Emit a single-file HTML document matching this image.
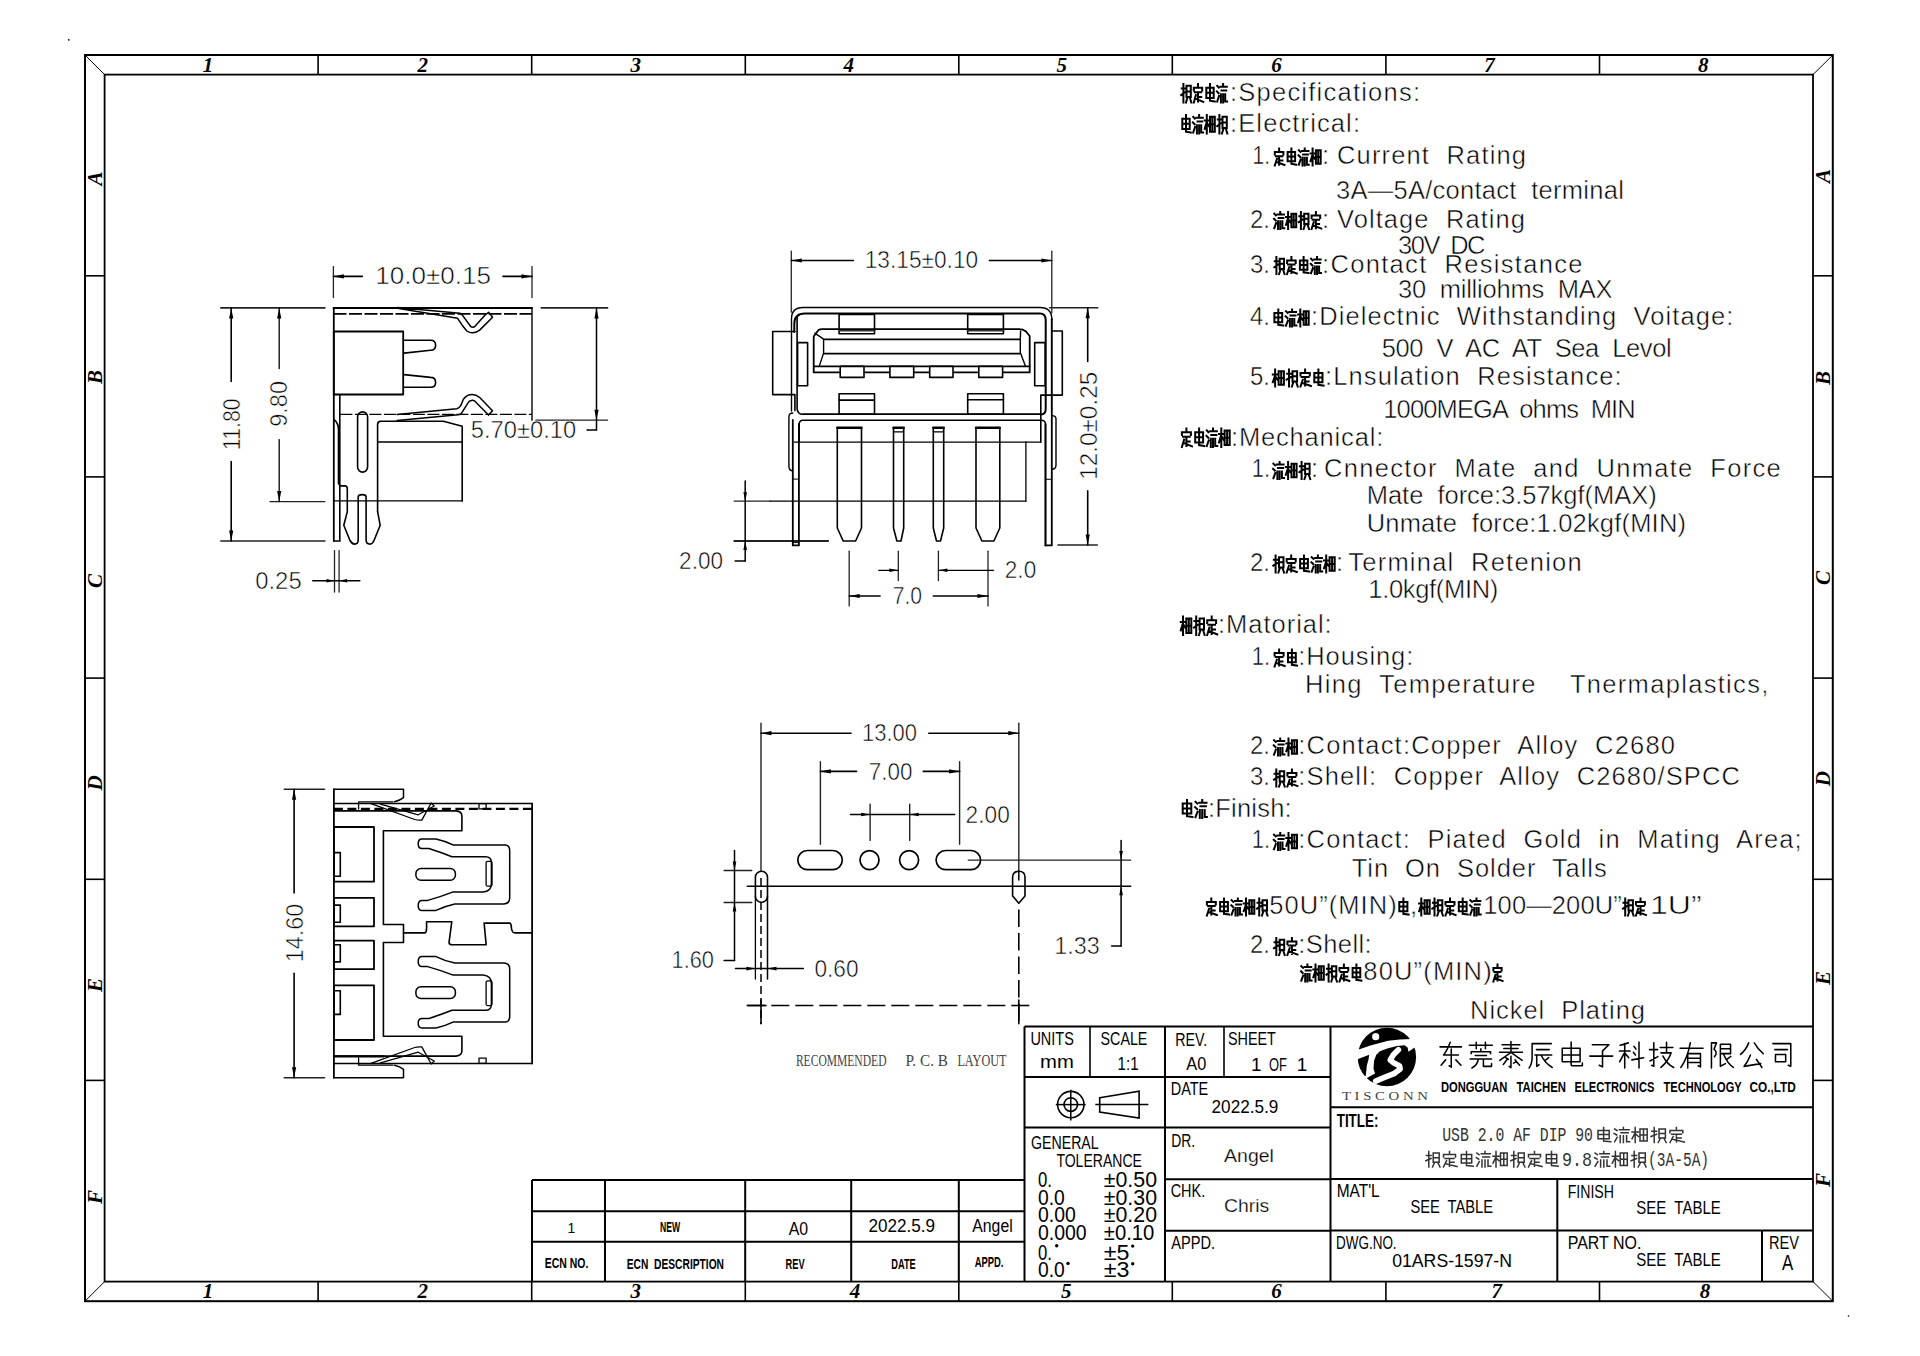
<!DOCTYPE html>
<html><head><meta charset="utf-8"><style>
html,body{margin:0;padding:0;background:#fff;}
svg{display:block;}
text{font-family:"Liberation Sans",sans-serif;fill:#000;white-space:pre;}
.gl{font-family:"Liberation Serif",serif;font-style:italic;font-size:21px;font-weight:bold;}
.tbb{font-weight:bold;}
.dm{stroke:#fff;stroke-width:0.55px;}
.sp{stroke:#fff;stroke-width:0.5px;}
.th{stroke:#fff;stroke-width:0.25px;}
.sr{font-family:"Liberation Serif",serif;fill:#444;}
.mo{font-family:"Liberation Mono",monospace;fill:#333;}
</style></head><body>
<svg width="1920" height="1356" viewBox="0 0 1920 1356">
<rect width="1920" height="1356" fill="#fff"/>
<g stroke="#000" fill="none">
<rect x="85" y="55" width="1747.8" height="1246.2" stroke-width="2"/>
<rect x="104.6" y="74.6" width="1708.4" height="1207.0" stroke-width="1.8"/>
<line x1="85.0" y1="55.0" x2="104.6" y2="74.6" stroke-width="1"/>
<line x1="1832.8" y1="55.0" x2="1813.0" y2="74.6" stroke-width="1"/>
<line x1="85.0" y1="1301.2" x2="104.6" y2="1281.6" stroke-width="1"/>
<line x1="1832.8" y1="1301.2" x2="1813.0" y2="1281.6" stroke-width="1"/>
<line x1="318.1" y1="55.0" x2="318.1" y2="74.6" stroke-width="1.6"/>
<line x1="318.1" y1="1281.6" x2="318.1" y2="1301.2" stroke-width="1.6"/>
<line x1="531.7" y1="55.0" x2="531.7" y2="74.6" stroke-width="1.6"/>
<line x1="531.7" y1="1281.6" x2="531.7" y2="1301.2" stroke-width="1.6"/>
<line x1="745.3" y1="55.0" x2="745.3" y2="74.6" stroke-width="1.6"/>
<line x1="745.3" y1="1281.6" x2="745.3" y2="1301.2" stroke-width="1.6"/>
<line x1="958.8" y1="55.0" x2="958.8" y2="74.6" stroke-width="1.6"/>
<line x1="958.8" y1="1281.6" x2="958.8" y2="1301.2" stroke-width="1.6"/>
<line x1="1172.3" y1="55.0" x2="1172.3" y2="74.6" stroke-width="1.6"/>
<line x1="1172.3" y1="1281.6" x2="1172.3" y2="1301.2" stroke-width="1.6"/>
<line x1="1385.9" y1="55.0" x2="1385.9" y2="74.6" stroke-width="1.6"/>
<line x1="1385.9" y1="1281.6" x2="1385.9" y2="1301.2" stroke-width="1.6"/>
<line x1="1599.5" y1="55.0" x2="1599.5" y2="74.6" stroke-width="1.6"/>
<line x1="1599.5" y1="1281.6" x2="1599.5" y2="1301.2" stroke-width="1.6"/>
<line x1="85.0" y1="275.8" x2="104.6" y2="275.8" stroke-width="1.6"/>
<line x1="1813.0" y1="275.8" x2="1832.8" y2="275.8" stroke-width="1.6"/>
<line x1="85.0" y1="476.9" x2="104.6" y2="476.9" stroke-width="1.6"/>
<line x1="1813.0" y1="476.9" x2="1832.8" y2="476.9" stroke-width="1.6"/>
<line x1="85.0" y1="678.1" x2="104.6" y2="678.1" stroke-width="1.6"/>
<line x1="1813.0" y1="678.1" x2="1832.8" y2="678.1" stroke-width="1.6"/>
<line x1="85.0" y1="879.3" x2="104.6" y2="879.3" stroke-width="1.6"/>
<line x1="1813.0" y1="879.3" x2="1832.8" y2="879.3" stroke-width="1.6"/>
<line x1="85.0" y1="1080.4" x2="104.6" y2="1080.4" stroke-width="1.6"/>
<line x1="1813.0" y1="1080.4" x2="1832.8" y2="1080.4" stroke-width="1.6"/>
</g>
<text class="gl" x="208.0" y="71.5" text-anchor="middle">1</text>
<text class="gl" x="208.0" y="1298" text-anchor="middle">1</text>
<text class="gl" x="422.7" y="71.5" text-anchor="middle">2</text>
<text class="gl" x="422.7" y="1298" text-anchor="middle">2</text>
<text class="gl" x="635.7" y="71.5" text-anchor="middle">3</text>
<text class="gl" x="635.7" y="1298" text-anchor="middle">3</text>
<text class="gl" x="848.7" y="71.5" text-anchor="middle">4</text>
<text class="gl" x="855.0" y="1298" text-anchor="middle">4</text>
<text class="gl" x="1061.7" y="71.5" text-anchor="middle">5</text>
<text class="gl" x="1066.2" y="1298" text-anchor="middle">5</text>
<text class="gl" x="1276.4" y="71.5" text-anchor="middle">6</text>
<text class="gl" x="1276.4" y="1298" text-anchor="middle">6</text>
<text class="gl" x="1489.4" y="71.5" text-anchor="middle">7</text>
<text class="gl" x="1496.7" y="1298" text-anchor="middle">7</text>
<text class="gl" x="1703.3" y="71.5" text-anchor="middle">8</text>
<text class="gl" x="1705.1" y="1298" text-anchor="middle">8</text>
<text class="gl" transform="translate(101.5 178.4) rotate(-90)" x="0" y="0" text-anchor="middle">A</text>
<text class="gl" transform="translate(1829.5 176.0) rotate(-90)" x="0" y="0" text-anchor="middle">A</text>
<text class="gl" transform="translate(101.5 377.0) rotate(-90)" x="0" y="0" text-anchor="middle">B</text>
<text class="gl" transform="translate(1829.5 378.0) rotate(-90)" x="0" y="0" text-anchor="middle">B</text>
<text class="gl" transform="translate(101.5 581.0) rotate(-90)" x="0" y="0" text-anchor="middle">C</text>
<text class="gl" transform="translate(1829.5 578.0) rotate(-90)" x="0" y="0" text-anchor="middle">C</text>
<text class="gl" transform="translate(101.5 783.0) rotate(-90)" x="0" y="0" text-anchor="middle">D</text>
<text class="gl" transform="translate(1829.5 778.6) rotate(-90)" x="0" y="0" text-anchor="middle">D</text>
<text class="gl" transform="translate(101.5 985.0) rotate(-90)" x="0" y="0" text-anchor="middle">E</text>
<text class="gl" transform="translate(1829.5 978.0) rotate(-90)" x="0" y="0" text-anchor="middle">E</text>
<text class="gl" transform="translate(101.5 1197.0) rotate(-90)" x="0" y="0" text-anchor="middle">F</text>
<text class="gl" transform="translate(1829.5 1180.0) rotate(-90)" x="0" y="0" text-anchor="middle">F</text>
<circle cx="68.8" cy="39.8" r="0.9" fill="#000"/>
<circle cx="1848.5" cy="1316" r="0.8" fill="#000"/>
<g stroke="#000" fill="none">
<line x1="1024.5" y1="1026.5" x2="1813.0" y2="1026.5" stroke-width="2"/>
<line x1="1024.5" y1="1026.5" x2="1024.5" y2="1281.6" stroke-width="2"/>
<line x1="1090.0" y1="1026.5" x2="1090.0" y2="1077.0" stroke-width="1.6"/>
<line x1="1165.0" y1="1026.5" x2="1165.0" y2="1281.6" stroke-width="2"/>
<line x1="1224.0" y1="1026.5" x2="1224.0" y2="1077.0" stroke-width="1.6"/>
<line x1="1330.5" y1="1026.5" x2="1330.5" y2="1281.6" stroke-width="2"/>
<line x1="1024.5" y1="1077.0" x2="1330.5" y2="1077.0" stroke-width="2"/>
<line x1="1024.5" y1="1127.5" x2="1330.5" y2="1127.5" stroke-width="2"/>
<line x1="1165.0" y1="1179.3" x2="1330.5" y2="1179.3" stroke-width="2"/>
<line x1="1165.0" y1="1230.7" x2="1330.5" y2="1230.7" stroke-width="2"/>
<line x1="1330.5" y1="1107.2" x2="1813.0" y2="1107.2" stroke-width="2"/>
<line x1="1330.5" y1="1178.9" x2="1813.0" y2="1178.9" stroke-width="2"/>
<line x1="1330.5" y1="1230.4" x2="1813.0" y2="1230.4" stroke-width="2"/>
<line x1="1557.3" y1="1178.9" x2="1557.3" y2="1281.6" stroke-width="2"/>
<line x1="1762.0" y1="1230.4" x2="1762.0" y2="1281.6" stroke-width="2"/>
<line x1="532.0" y1="1180.1" x2="532.0" y2="1281.6" stroke-width="2"/>
<line x1="605.0" y1="1180.1" x2="605.0" y2="1281.6" stroke-width="2"/>
<line x1="745.2" y1="1180.1" x2="745.2" y2="1281.6" stroke-width="2"/>
<line x1="851.2" y1="1180.1" x2="851.2" y2="1281.6" stroke-width="2"/>
<line x1="958.8" y1="1180.1" x2="958.8" y2="1281.6" stroke-width="2"/>
<line x1="532.0" y1="1180.1" x2="1024.5" y2="1180.1" stroke-width="2"/>
<line x1="532.0" y1="1211.2" x2="1024.5" y2="1211.2" stroke-width="2"/>
<line x1="532.0" y1="1241.7" x2="1024.5" y2="1241.7" stroke-width="2"/>
<circle cx="1070.8" cy="1104.6" r="13.2" stroke-width="1.6"/>
<circle cx="1070.8" cy="1104.6" r="6.8" stroke-width="1.6"/>
<line x1="1055.8" y1="1104.6" x2="1085.7" y2="1104.6" stroke-width="1.5"/>
<line x1="1070.8" y1="1089.7" x2="1070.8" y2="1120.6" stroke-width="1.5"/>
<line x1="1095.3" y1="1104.6" x2="1148.4" y2="1104.6" stroke-width="1.5"/>
<path d="M1099.7 1097.7L1139.1 1091.3L1139.1 1118L1099.7 1112Z" stroke-width="1.6"/>
</g>
<text x="1030.4" y="1044.9" font-size="18.90" textLength="43.4" lengthAdjust="spacingAndGlyphs" class="tb">UNITS</text>
<text x="1040.0" y="1067.8" font-size="18.90" textLength="33.8" lengthAdjust="spacingAndGlyphs" class="tb">mm</text>
<text x="1100.6" y="1044.9" font-size="18.90" textLength="46.8" lengthAdjust="spacingAndGlyphs" class="tb">SCALE</text>
<text x="1117.6" y="1069.8" font-size="18.90" textLength="20.9" lengthAdjust="spacingAndGlyphs" class="tb">1:1</text>
<text x="1175.3" y="1045.5" font-size="18.90" textLength="31.9" lengthAdjust="spacingAndGlyphs" class="tb">REV.</text>
<text x="1186.3" y="1069.8" font-size="18.90" textLength="19.9" lengthAdjust="spacingAndGlyphs" class="tb">A0</text>
<text x="1228.0" y="1044.9" font-size="18.90" textLength="47.9" lengthAdjust="spacingAndGlyphs" class="tb">SHEET</text>
<text x="1251.0" y="1070.8" font-size="18.90" class="tb">1</text>
<text x="1268.9" y="1070.8" font-size="18.90" textLength="17.9" lengthAdjust="spacingAndGlyphs" class="tb">OF</text>
<text x="1296.8" y="1070.8" font-size="18.90" class="tb">1</text>
<text x="1170.7" y="1095.3" font-size="18.31" textLength="37.5" lengthAdjust="spacingAndGlyphs" class="tb">DATE</text>
<text x="1211.6" y="1112.6" font-size="18.75" textLength="66.7" lengthAdjust="spacingAndGlyphs" class="tb">2022.5.9</text>
<text x="1031.0" y="1149.4" font-size="18.75" textLength="67.7" lengthAdjust="spacingAndGlyphs" class="tb">GENERAL</text>
<text x="1056.4" y="1167.4" font-size="18.75" textLength="85.5" lengthAdjust="spacingAndGlyphs" class="tb">TOLERANCE</text>
<text x="1038.0" y="1187.4" font-size="21.95" textLength="13.9" lengthAdjust="spacingAndGlyphs" class="tb">0.</text>
<text x="1103.8" y="1187.4" font-size="21.95" textLength="53.2" lengthAdjust="spacingAndGlyphs" class="tb">±0.50</text>
<text x="1038.0" y="1204.7" font-size="21.95" textLength="26.8" lengthAdjust="spacingAndGlyphs" class="tb">0.0</text>
<text x="1103.8" y="1204.7" font-size="21.95" textLength="53.2" lengthAdjust="spacingAndGlyphs" class="tb">±0.30</text>
<text x="1038.0" y="1222.4" font-size="21.95" textLength="37.8" lengthAdjust="spacingAndGlyphs" class="tb">0.00</text>
<text x="1103.8" y="1222.4" font-size="21.95" textLength="53.2" lengthAdjust="spacingAndGlyphs" class="tb">±0.20</text>
<text x="1038.0" y="1240.1" font-size="21.95" textLength="48.7" lengthAdjust="spacingAndGlyphs" class="tb">0.000</text>
<text x="1103.8" y="1240.1" font-size="21.95" textLength="50.6" lengthAdjust="spacingAndGlyphs" class="tb">±0.10</text>
<text x="1038.0" y="1259.5" font-size="21.95" textLength="13.9" lengthAdjust="spacingAndGlyphs" class="tb">0.</text>
<text x="1103.8" y="1259.5" font-size="21.95" textLength="25.7" lengthAdjust="spacingAndGlyphs" class="tb">±5</text>
<text x="1038.0" y="1277.2" font-size="21.95" textLength="26.8" lengthAdjust="spacingAndGlyphs" class="tb">0.0</text>
<text x="1103.8" y="1277.2" font-size="21.95" textLength="25.7" lengthAdjust="spacingAndGlyphs" class="tb">±3</text>
<circle cx="1056.7" cy="1245.7" r="1.7" fill="#000"/>
<circle cx="1132.7" cy="1246.1" r="1.7" fill="#000"/>
<circle cx="1068" cy="1263.4" r="1.7" fill="#000"/>
<circle cx="1132.7" cy="1263.8" r="1.7" fill="#000"/>
<text x="1171.3" y="1146.8" font-size="18.90" textLength="23.9" lengthAdjust="spacingAndGlyphs" class="tb">DR.</text>
<text x="1224.1" y="1161.8" font-size="18.90" textLength="49.8" lengthAdjust="spacingAndGlyphs" class="th">Angel</text>
<text x="1170.7" y="1196.8" font-size="18.90" textLength="34.5" lengthAdjust="spacingAndGlyphs" class="tb">CHK.</text>
<text x="1224.0" y="1212.2" font-size="18.90" textLength="45.3" lengthAdjust="spacingAndGlyphs" class="th">Chris</text>
<text x="1171.3" y="1249.0" font-size="18.90" textLength="43.8" lengthAdjust="spacingAndGlyphs" class="tb">APPD.</text>
<text x="1336.7" y="1126.8" font-size="18.90" textLength="41.7" lengthAdjust="spacingAndGlyphs" class="tbb">TITLE:</text>
<text x="1336.7" y="1197.0" font-size="18.90" textLength="43.0" lengthAdjust="spacingAndGlyphs" class="tb">MAT'L</text>
<text x="1410.4" y="1212.7" font-size="18.90" textLength="82.6" lengthAdjust="spacingAndGlyphs" class="tb">SEE  TABLE</text>
<text x="1567.7" y="1198.4" font-size="18.90" textLength="46.3" lengthAdjust="spacingAndGlyphs" class="tb">FINISH</text>
<text x="1636.2" y="1214.0" font-size="18.90" textLength="84.6" lengthAdjust="spacingAndGlyphs" class="tb">SEE  TABLE</text>
<text x="1336.0" y="1248.6" font-size="18.90" textLength="60.6" lengthAdjust="spacingAndGlyphs" class="tb">DWG.NO.</text>
<text x="1392.2" y="1266.9" font-size="18.90" textLength="119.8" lengthAdjust="spacingAndGlyphs" class="tb">01ARS-1597-N</text>
<text x="1567.7" y="1249.2" font-size="18.90" textLength="73.7" lengthAdjust="spacingAndGlyphs" class="tb">PART NO.</text>
<text x="1636.2" y="1266.1" font-size="18.90" textLength="84.6" lengthAdjust="spacingAndGlyphs" class="tb">SEE  TABLE</text>
<text x="1769.0" y="1248.6" font-size="18.90" textLength="30.0" lengthAdjust="spacingAndGlyphs" class="tb">REV</text>
<text x="1782.0" y="1270.0" font-size="21.80" textLength="11.2" lengthAdjust="spacingAndGlyphs" class="tb">A</text>
<text x="1440.9" y="1091.6" font-size="15.26" textLength="66.4" lengthAdjust="spacingAndGlyphs" class="tbb">DONGGUAN</text>
<text x="1516.4" y="1091.6" font-size="15.26" textLength="49.5" lengthAdjust="spacingAndGlyphs" class="tbb">TAICHEN</text>
<text x="1574.5" y="1091.6" font-size="15.26" textLength="79.9" lengthAdjust="spacingAndGlyphs" class="tbb">ELECTRONICS</text>
<text x="1663.5" y="1091.6" font-size="15.26" textLength="78.2" lengthAdjust="spacingAndGlyphs" class="tbb">TECHNOLOGY</text>
<text x="1749.5" y="1091.6" font-size="15.26" textLength="46.3" lengthAdjust="spacingAndGlyphs" class="tbb">CO.,LTD</text>
<text x="567.5" y="1233.0" font-size="13.81" class="tb">1</text>
<text x="660.0" y="1231.6" font-size="13.81" textLength="20.2" lengthAdjust="spacingAndGlyphs" class="tbb">NEW</text>
<text x="788.8" y="1235.0" font-size="17.44" textLength="19.4" lengthAdjust="spacingAndGlyphs" class="tb">A0</text>
<text x="868.5" y="1232.4" font-size="18.17" textLength="66.6" lengthAdjust="spacingAndGlyphs" class="tb">2022.5.9</text>
<text x="972.3" y="1231.6" font-size="17.44" textLength="40.4" lengthAdjust="spacingAndGlyphs" class="tb">Angel</text>
<text x="544.7" y="1267.7" font-size="14.54" textLength="43.6" lengthAdjust="spacingAndGlyphs" class="tbb">ECN NO.</text>
<text x="626.8" y="1268.8" font-size="14.54" textLength="97.2" lengthAdjust="spacingAndGlyphs" class="tbb">ECN  DESCRIPTION</text>
<text x="785.6" y="1268.8" font-size="14.54" textLength="19.1" lengthAdjust="spacingAndGlyphs" class="tbb">REV</text>
<text x="891.3" y="1268.8" font-size="14.54" textLength="24.4" lengthAdjust="spacingAndGlyphs" class="tbb">DATE</text>
<text x="974.7" y="1267.0" font-size="14.54" textLength="28.7" lengthAdjust="spacingAndGlyphs" class="tbb">APPD.</text>
<path d="M1181.8 88.6L1184.9 88.6M1183.4 84.0L1183.4 102.5M1181.2 95.1L1184.9 92.3M1186.5 85.8L1190.8 85.8M1186.5 85.8L1186.5 97.0M1190.8 85.8L1190.8 97.0M1186.5 91.4L1190.8 91.4M1186.5 97.0L1190.8 97.0M1187.6 97.0L1186.0 102.5M1189.7 97.0L1191.3 102.5M1198.0 84.0L1198.0 86.8M1193.8 87.7L1202.2 87.7M1193.8 87.7L1193.8 90.5M1202.2 87.7L1202.2 90.5M1194.8 92.3L1201.2 92.3M1198.0 92.3L1198.0 101.6M1198.0 97.0L1201.2 97.0M1195.9 95.1L1193.8 102.5M1195.9 98.8L1203.3 101.9M1206.3 87.7L1213.7 87.7M1206.3 87.7L1206.3 97.9M1213.7 87.7L1213.7 97.9M1206.3 92.7L1213.7 92.7M1206.3 97.9L1213.7 97.9M1210.0 84.0L1210.0 100.7M1210.0 100.7L1214.8 101.6M1217.2 85.8L1218.8 87.7M1216.9 91.4L1218.6 93.2M1217.2 101.6L1219.0 96.0M1220.4 86.8L1226.8 86.8M1223.1 84.0L1223.1 86.8M1221.5 90.5L1226.2 90.5M1220.9 94.2L1220.9 102.5M1223.1 94.2L1223.1 102.5M1225.2 94.2L1225.2 101.6M1225.2 101.6L1227.1 101.6" stroke="#000" stroke-width="2.0" fill="none" stroke-linecap="square"/>
<text x="1230.0" y="101.2" font-size="25.50" textLength="190.0" lengthAdjust="spacing" class="sp">:Specifications:</text>
<path d="M1182.3 118.7L1189.7 118.7M1182.3 118.7L1182.3 128.9M1189.7 118.7L1189.7 128.9M1182.3 123.7L1189.7 123.7M1182.3 128.9L1189.7 128.9M1186.0 115.0L1186.0 131.7M1186.0 131.7L1190.8 132.6M1193.2 116.8L1194.8 118.7M1192.9 122.4L1194.6 124.2M1193.2 132.6L1195.0 127.0M1196.4 117.8L1202.8 117.8M1199.1 115.0L1199.1 117.8M1197.5 121.5L1202.2 121.5M1196.9 125.2L1196.9 133.5M1199.1 125.2L1199.1 133.5M1201.2 125.2L1201.2 132.6M1201.2 132.6L1203.1 132.6M1204.7 120.5L1208.9 120.5M1206.8 115.0L1206.8 133.5M1206.8 121.5L1204.7 128.9M1206.8 122.4L1208.9 126.1M1210.0 116.8L1214.8 116.8M1210.0 116.8L1210.0 131.7M1210.0 124.2L1214.8 124.2M1214.8 116.8L1214.8 131.7M1210.0 131.7L1214.8 131.7M1212.3 116.8L1212.3 131.7M1217.8 119.6L1220.9 119.6M1219.4 115.0L1219.4 133.5M1217.2 126.1L1220.9 123.3M1222.5 116.8L1226.8 116.8M1222.5 116.8L1222.5 128.0M1226.8 116.8L1226.8 128.0M1222.5 122.4L1226.8 122.4M1222.5 128.0L1226.8 128.0M1223.6 128.0L1222.0 133.5M1225.7 128.0L1227.3 133.5" stroke="#000" stroke-width="2.0" fill="none" stroke-linecap="square"/>
<text x="1230.0" y="132.0" font-size="25.50" textLength="130.0" lengthAdjust="spacing" class="sp">:Electrical:</text>
<text x="1252.5" y="163.8" font-size="25.50" textLength="17.5" lengthAdjust="spacingAndGlyphs" class="sp">1.</text>
<path d="M1279.1 148.5L1279.1 151.1M1274.8 151.9L1283.4 151.9M1274.8 151.9L1274.8 154.4M1283.4 151.9L1283.4 154.4M1275.9 156.2L1282.4 156.2M1279.1 156.2L1279.1 164.7M1279.1 160.4L1282.4 160.4M1277.0 158.7L1274.8 165.5M1277.0 162.1L1284.5 165.0M1287.6 151.9L1295.1 151.9M1287.6 151.9L1287.6 161.2M1295.1 151.9L1295.1 161.2M1287.6 156.5L1295.1 156.5M1287.6 161.2L1295.1 161.2M1291.4 148.5L1291.4 163.8M1291.4 163.8L1296.2 164.7M1298.8 150.2L1300.4 151.9M1298.5 155.3L1300.2 157.0M1298.8 164.7L1300.6 159.6M1302.0 151.1L1308.5 151.1M1304.7 148.5L1304.7 151.1M1303.1 154.4L1307.9 154.4M1302.5 157.8L1302.5 165.5M1304.7 157.8L1304.7 165.5M1306.9 157.8L1306.9 164.7M1306.9 164.7L1308.8 164.7M1310.5 153.6L1314.8 153.6M1312.6 148.5L1312.6 165.5M1312.6 154.4L1310.5 161.2M1312.6 155.3L1314.8 158.7M1315.9 150.2L1320.7 150.2M1315.9 150.2L1315.9 163.8M1315.9 157.0L1320.7 157.0M1320.7 150.2L1320.7 163.8M1315.9 163.8L1320.7 163.8M1318.2 150.2L1318.2 163.8" stroke="#000" stroke-width="2.0" fill="none" stroke-linecap="square"/>
<text x="1322.0" y="163.8" font-size="25.50" textLength="6.0" lengthAdjust="spacing" class="sp">:</text>
<text x="1337.0" y="163.8" font-size="25.50" textLength="189.0" lengthAdjust="spacing" class="sp">Current  Rating</text>
<text x="1336.0" y="199.0" font-size="25.50" textLength="287.8" lengthAdjust="spacing" class="sp">3A—5A/contact  terminal</text>
<text x="1250.0" y="227.5" font-size="25.50" textLength="20.0" lengthAdjust="spacingAndGlyphs" class="sp">2.</text>
<path d="M1274.3 213.7L1275.9 215.4M1274.0 218.8L1275.7 220.5M1274.3 228.2L1276.1 223.1M1277.5 214.6L1284.0 214.6M1280.2 212.0L1280.2 214.6M1278.6 217.9L1283.4 217.9M1278.0 221.3L1278.0 229.0M1280.2 221.3L1280.2 229.0M1282.4 221.3L1282.4 228.2M1282.4 228.2L1284.3 228.2M1286.0 217.1L1290.3 217.1M1288.1 212.0L1288.1 229.0M1288.1 217.9L1286.0 224.8M1288.1 218.8L1290.3 222.2M1291.4 213.7L1296.2 213.7M1291.4 213.7L1291.4 227.3M1291.4 220.5L1296.2 220.5M1296.2 213.7L1296.2 227.3M1291.4 227.3L1296.2 227.3M1293.7 213.7L1293.7 227.3M1299.3 216.2L1302.5 216.2M1300.9 212.0L1300.9 229.0M1298.8 222.2L1302.5 219.7M1304.2 213.7L1308.5 213.7M1304.2 213.7L1304.2 223.9M1308.5 213.7L1308.5 223.9M1304.2 218.8L1308.5 218.8M1304.2 223.9L1308.5 223.9M1305.2 223.9L1303.6 229.0M1307.4 223.9L1309.0 229.0M1315.9 212.0L1315.9 214.6M1311.6 215.4L1320.2 215.4M1311.6 215.4L1311.6 217.9M1320.2 215.4L1320.2 217.9M1312.6 219.7L1319.1 219.7M1315.9 219.7L1315.9 228.2M1315.9 223.9L1319.1 223.9M1313.7 222.2L1311.6 229.0M1313.7 225.6L1321.3 228.5" stroke="#000" stroke-width="2.0" fill="none" stroke-linecap="square"/>
<text x="1322.0" y="227.5" font-size="25.50" textLength="6.0" lengthAdjust="spacing" class="sp">:</text>
<text x="1337.0" y="227.5" font-size="25.50" textLength="188.0" lengthAdjust="spacing" class="sp">Voltage  Rating</text>
<text x="1398.0" y="253.8" font-size="25.50" textLength="87.5" lengthAdjust="spacing" class="sp">30V  DC</text>
<text x="1250.0" y="272.5" font-size="25.50" textLength="20.0" lengthAdjust="spacingAndGlyphs" class="sp">3.</text>
<path d="M1274.8 261.2L1278.0 261.2M1276.4 257.0L1276.4 274.0M1274.3 267.2L1278.0 264.6M1279.7 258.7L1284.0 258.7M1279.7 258.7L1279.7 268.9M1284.0 258.7L1284.0 268.9M1279.7 263.8L1284.0 263.8M1279.7 268.9L1284.0 268.9M1280.7 268.9L1279.1 274.0M1282.9 268.9L1284.5 274.0M1291.4 257.0L1291.4 259.6M1287.1 260.4L1295.7 260.4M1287.1 260.4L1287.1 262.9M1295.7 260.4L1295.7 262.9M1288.1 264.6L1294.6 264.6M1291.4 264.6L1291.4 273.1M1291.4 268.9L1294.6 268.9M1289.2 267.2L1287.1 274.0M1289.2 270.6L1296.8 273.5M1299.9 260.4L1307.4 260.4M1299.9 260.4L1299.9 269.8M1307.4 260.4L1307.4 269.8M1299.9 265.0L1307.4 265.0M1299.9 269.8L1307.4 269.8M1303.6 257.0L1303.6 272.3M1303.6 272.3L1308.5 273.1M1311.0 258.7L1312.6 260.4M1310.7 263.8L1312.4 265.5M1311.0 273.1L1312.9 268.1M1314.3 259.6L1320.7 259.6M1317.0 257.0L1317.0 259.6M1315.3 262.9L1320.2 262.9M1314.8 266.4L1314.8 274.0M1317.0 266.4L1317.0 274.0M1319.1 266.4L1319.1 273.1M1319.1 273.1L1321.0 273.1" stroke="#000" stroke-width="2.0" fill="none" stroke-linecap="square"/>
<text x="1322.0" y="272.5" font-size="25.50" textLength="260.5" lengthAdjust="spacing" class="sp">:Contact  Resistance</text>
<text x="1398.0" y="298.0" font-size="25.50" textLength="214.5" lengthAdjust="spacing" class="sp">30  milliohms  MAX</text>
<text x="1250.0" y="325.0" font-size="25.50" textLength="20.0" lengthAdjust="spacingAndGlyphs" class="sp">4.</text>
<path d="M1274.4 312.9L1282.2 312.9M1274.4 312.9L1274.4 322.2M1282.2 312.9L1282.2 322.2M1274.4 317.5L1282.2 317.5M1274.4 322.2L1282.2 322.2M1278.3 309.5L1278.3 324.8M1278.3 324.8L1283.3 325.6M1286.0 311.2L1287.7 312.9M1285.6 316.3L1287.4 318.0M1286.0 325.6L1287.9 320.6M1289.3 312.1L1296.0 312.1M1292.1 309.5L1292.1 312.1M1290.4 315.4L1295.5 315.4M1289.9 318.9L1289.9 326.5M1292.1 318.9L1292.1 326.5M1294.3 318.9L1294.3 325.6M1294.3 325.6L1296.4 325.6M1298.1 314.6L1302.6 314.6M1300.3 309.5L1300.3 326.5M1300.3 315.4L1298.1 322.2M1300.3 316.3L1302.6 319.7M1303.7 311.2L1308.7 311.2M1303.7 311.2L1303.7 324.8M1303.7 318.0L1308.7 318.0M1308.7 311.2L1308.7 324.8M1303.7 324.8L1308.7 324.8M1306.1 311.2L1306.1 324.8" stroke="#000" stroke-width="2.0" fill="none" stroke-linecap="square"/>
<text x="1311.0" y="325.0" font-size="25.50" textLength="422.3" lengthAdjust="spacing" class="sp">:Dielectnic  Withstanding  Voitage:</text>
<text x="1381.7" y="356.7" font-size="25.50" textLength="290.0" lengthAdjust="spacing" class="sp">500  V  AC  AT  Sea  Levol</text>
<text x="1250.0" y="385.0" font-size="25.50" textLength="20.0" lengthAdjust="spacingAndGlyphs" class="sp">5.</text>
<path d="M1272.8 374.6L1277.5 374.6M1275.1 369.5L1275.1 386.5M1275.1 375.4L1272.8 382.2M1275.1 376.3L1277.5 379.7M1278.6 371.2L1283.9 371.2M1278.6 371.2L1278.6 384.8M1278.6 378.0L1283.9 378.0M1283.9 371.2L1283.9 384.8M1278.6 384.8L1283.9 384.8M1281.2 371.2L1281.2 384.8M1287.2 373.8L1290.7 373.8M1289.0 369.5L1289.0 386.5M1286.6 379.7L1290.7 377.1M1292.5 371.2L1297.1 371.2M1292.5 371.2L1292.5 381.4M1297.1 371.2L1297.1 381.4M1292.5 376.3L1297.1 376.3M1292.5 381.4L1297.1 381.4M1293.6 381.4L1291.9 386.5M1296.0 381.4L1297.7 386.5M1305.1 369.5L1305.1 372.1M1300.5 372.9L1309.8 372.9M1300.5 372.9L1300.5 375.4M1309.8 372.9L1309.8 375.4M1301.6 377.1L1308.6 377.1M1305.1 377.1L1305.1 385.6M1305.1 381.4L1308.6 381.4M1302.8 379.7L1300.5 386.5M1302.8 383.1L1311.0 386.0M1314.3 372.9L1322.5 372.9M1314.3 372.9L1314.3 382.2M1322.5 372.9L1322.5 382.2M1314.3 377.5L1322.5 377.5M1314.3 382.2L1322.5 382.2M1318.4 369.5L1318.4 384.8M1318.4 384.8L1323.6 385.6" stroke="#000" stroke-width="2.0" fill="none" stroke-linecap="square"/>
<text x="1325.0" y="385.0" font-size="25.50" textLength="296.7" lengthAdjust="spacing" class="sp">:Lnsulation  Resistance:</text>
<text x="1383.3" y="418.3" font-size="25.50" textLength="252.4" lengthAdjust="spacing" class="sp">1000MEGA  ohms  MIN</text>
<path d="M1186.4 428.5L1186.4 431.3M1181.9 432.2L1190.9 432.2M1181.9 432.2L1181.9 435.0M1190.9 432.2L1190.9 435.0M1183.0 436.8L1189.7 436.8M1186.4 436.8L1186.4 446.1M1186.4 441.4L1189.7 441.4M1184.1 439.6L1181.9 447.0M1184.1 443.3L1192.0 446.4M1195.2 432.2L1203.1 432.2M1195.2 432.2L1195.2 442.4M1203.1 432.2L1203.1 442.4M1195.2 437.2L1203.1 437.2M1195.2 442.4L1203.1 442.4M1199.1 428.5L1199.1 445.1M1199.1 445.1L1204.2 446.1M1206.8 430.4L1208.5 432.2M1206.5 435.9L1208.3 437.8M1206.8 446.1L1208.7 440.5M1210.2 431.3L1216.9 431.3M1213.0 428.5L1213.0 431.3M1211.3 435.0L1216.4 435.0M1210.8 438.7L1210.8 447.0M1213.0 438.7L1213.0 447.0M1215.2 438.7L1215.2 446.1M1215.2 446.1L1217.3 446.1M1219.0 434.1L1223.5 434.1M1221.3 428.5L1221.3 447.0M1221.3 435.0L1219.0 442.4M1221.3 435.9L1223.5 439.6M1224.6 430.4L1229.7 430.4M1224.6 430.4L1224.6 445.1M1224.6 437.8L1229.7 437.8M1229.7 430.4L1229.7 445.1M1224.6 445.1L1229.7 445.1M1227.1 430.4L1227.1 445.1" stroke="#000" stroke-width="2.0" fill="none" stroke-linecap="square"/>
<text x="1231.0" y="445.7" font-size="25.50" textLength="152.3" lengthAdjust="spacing" class="sp">:Mechanical:</text>
<text x="1251.7" y="477.3" font-size="25.50" textLength="18.3" lengthAdjust="spacingAndGlyphs" class="sp">1.</text>
<path d="M1273.4 463.7L1275.1 465.4M1273.0 468.8L1274.8 470.5M1273.4 478.1L1275.3 473.1M1276.8 464.6L1283.6 464.6M1279.6 462.0L1279.6 464.6M1277.9 467.9L1283.1 467.9M1277.4 471.4L1277.4 479.0M1279.6 471.4L1279.6 479.0M1281.9 471.4L1281.9 478.1M1281.9 478.1L1284.0 478.1M1285.8 467.1L1290.4 467.1M1288.1 462.0L1288.1 479.0M1288.1 467.9L1285.8 474.8M1288.1 468.8L1290.4 472.2M1291.5 463.7L1296.6 463.7M1291.5 463.7L1291.5 477.3M1291.5 470.5L1296.6 470.5M1296.6 463.7L1296.6 477.3M1291.5 477.3L1296.6 477.3M1294.0 463.7L1294.0 477.3M1299.9 466.2L1303.4 466.2M1301.6 462.0L1301.6 479.0M1299.4 472.2L1303.4 469.6M1305.1 463.7L1309.6 463.7M1305.1 463.7L1305.1 473.9M1309.6 463.7L1309.6 473.9M1305.1 468.8L1309.6 468.8M1305.1 473.9L1309.6 473.9M1306.2 473.9L1304.5 479.0M1308.5 473.9L1310.2 479.0" stroke="#000" stroke-width="2.0" fill="none" stroke-linecap="square"/>
<text x="1311.0" y="477.3" font-size="25.50" textLength="6.0" lengthAdjust="spacing" class="sp">:</text>
<text x="1324.0" y="477.3" font-size="25.50" textLength="456.7" lengthAdjust="spacing" class="sp">Cnnector  Mate  and  Unmate  Force</text>
<text x="1366.7" y="504.0" font-size="25.50" textLength="290.0" lengthAdjust="spacing" class="sp">Mate  force:3.57kgf(MAX)</text>
<text x="1366.7" y="532.3" font-size="25.50" textLength="319.3" lengthAdjust="spacing" class="sp">Unmate  force:1.02kgf(MIN)</text>
<text x="1250.0" y="570.7" font-size="25.50" textLength="20.0" lengthAdjust="spacingAndGlyphs" class="sp">2.</text>
<path d="M1273.9 559.8L1277.3 559.8M1275.6 555.5L1275.6 572.5M1273.3 565.7L1277.3 563.1M1279.0 557.2L1283.5 557.2M1279.0 557.2L1279.0 567.4M1283.5 557.2L1283.5 567.4M1279.0 562.3L1283.5 562.3M1279.0 567.4L1283.5 567.4M1280.1 567.4L1278.4 572.5M1282.3 567.4L1284.0 572.5M1291.2 555.5L1291.2 558.0M1286.7 558.9L1295.7 558.9M1286.7 558.9L1286.7 561.5M1295.7 558.9L1295.7 561.5M1287.8 563.1L1294.6 563.1M1291.2 563.1L1291.2 571.6M1291.2 567.4L1294.6 567.4M1288.9 565.7L1286.7 572.5M1288.9 569.1L1296.8 572.0M1300.1 558.9L1307.9 558.9M1300.1 558.9L1300.1 568.2M1307.9 558.9L1307.9 568.2M1300.1 563.5L1307.9 563.5M1300.1 568.2L1307.9 568.2M1304.0 555.5L1304.0 570.8M1304.0 570.8L1309.1 571.6M1311.7 557.2L1313.4 558.9M1311.4 562.3L1313.2 564.0M1311.7 571.6L1313.6 566.5M1315.1 558.0L1321.9 558.0M1317.9 555.5L1317.9 558.0M1316.2 561.5L1321.3 561.5M1315.7 564.9L1315.7 572.5M1317.9 564.9L1317.9 572.5M1320.2 564.9L1320.2 571.6M1320.2 571.6L1322.2 571.6M1324.0 560.6L1328.5 560.6M1326.2 555.5L1326.2 572.5M1326.2 561.5L1324.0 568.2M1326.2 562.3L1328.5 565.7M1329.6 557.2L1334.7 557.2M1329.6 557.2L1329.6 570.8M1329.6 564.0L1334.7 564.0M1334.7 557.2L1334.7 570.8M1329.6 570.8L1334.7 570.8M1332.1 557.2L1332.1 570.8" stroke="#000" stroke-width="2.0" fill="none" stroke-linecap="square"/>
<text x="1336.0" y="570.7" font-size="25.50" textLength="6.0" lengthAdjust="spacing" class="sp">:</text>
<text x="1348.3" y="570.7" font-size="25.50" textLength="233.4" lengthAdjust="spacing" class="sp">Terminal  Retenion</text>
<text x="1368.3" y="597.7" font-size="25.50" textLength="130.0" lengthAdjust="spacing" class="sp">1.0kgf(MIN)</text>
<path d="M1180.8 622.0L1185.2 622.0M1183.0 616.5L1183.0 635.0M1183.0 623.0L1180.8 630.4M1183.0 623.9L1185.2 627.6M1186.3 618.4L1191.3 618.4M1186.3 618.4L1186.3 633.1M1186.3 625.8L1191.3 625.8M1191.3 618.4L1191.3 633.1M1186.3 633.1L1191.3 633.1M1188.8 618.4L1188.8 633.1M1194.5 621.1L1197.9 621.1M1196.2 616.5L1196.2 635.0M1194.0 627.6L1197.9 624.8M1199.6 618.4L1204.0 618.4M1199.6 618.4L1199.6 629.5M1204.0 618.4L1204.0 629.5M1199.6 623.9L1204.0 623.9M1199.6 629.5L1204.0 629.5M1200.7 629.5L1199.0 635.0M1202.9 629.5L1204.6 635.0M1211.7 616.5L1211.7 619.3M1207.2 620.2L1216.1 620.2M1207.2 620.2L1207.2 623.0M1216.1 620.2L1216.1 623.0M1208.3 624.8L1215.0 624.8M1211.7 624.8L1211.7 634.1M1211.7 629.5L1215.0 629.5M1209.4 627.6L1207.2 635.0M1209.4 631.3L1217.2 634.4" stroke="#000" stroke-width="2.0" fill="none" stroke-linecap="square"/>
<text x="1218.0" y="633.3" font-size="25.50" textLength="113.7" lengthAdjust="spacing" class="sp">:Matorial:</text>
<text x="1251.7" y="665.0" font-size="25.50" textLength="18.3" lengthAdjust="spacingAndGlyphs" class="sp">1.</text>
<path d="M1279.1 649.5L1279.1 652.0M1274.6 652.9L1283.6 652.9M1274.6 652.9L1274.6 655.5M1283.6 652.9L1283.6 655.5M1275.7 657.1L1282.5 657.1M1279.1 657.1L1279.1 665.6M1279.1 661.4L1282.5 661.4M1276.8 659.7L1274.6 666.5M1276.8 663.1L1284.7 666.0M1288.0 652.9L1295.8 652.9M1288.0 652.9L1288.0 662.2M1295.8 652.9L1295.8 662.2M1288.0 657.5L1295.8 657.5M1288.0 662.2L1295.8 662.2M1291.9 649.5L1291.9 664.8M1291.9 664.8L1297.0 665.6" stroke="#000" stroke-width="2.0" fill="none" stroke-linecap="square"/>
<text x="1298.3" y="665.0" font-size="25.50" textLength="115.0" lengthAdjust="spacing" class="sp">:Housing:</text>
<text x="1305.0" y="693.3" font-size="25.50" textLength="463.3" lengthAdjust="spacing" class="sp">Hing  Temperature    Tnermaplastics,</text>
<text x="1250.0" y="754.0" font-size="25.50" textLength="20.0" lengthAdjust="spacingAndGlyphs" class="sp">2.</text>
<path d="M1274.0 740.2L1275.7 741.9M1273.7 745.3L1275.5 747.0M1274.0 754.6L1275.9 749.5M1277.4 741.0L1284.2 741.0M1280.2 738.5L1280.2 741.0M1278.5 744.5L1283.6 744.5M1278.0 747.9L1278.0 755.5M1280.2 747.9L1280.2 755.5M1282.5 747.9L1282.5 754.6M1282.5 754.6L1284.5 754.6M1286.3 743.6L1290.8 743.6M1288.5 738.5L1288.5 755.5M1288.5 744.5L1286.3 751.2M1288.5 745.3L1290.8 748.7M1291.9 740.2L1297.0 740.2M1291.9 740.2L1291.9 753.8M1291.9 747.0L1297.0 747.0M1297.0 740.2L1297.0 753.8M1291.9 753.8L1297.0 753.8M1294.4 740.2L1294.4 753.8" stroke="#000" stroke-width="2.0" fill="none" stroke-linecap="square"/>
<text x="1298.3" y="754.0" font-size="25.50" textLength="376.7" lengthAdjust="spacing" class="sp">:Contact:Copper  Alloy  C2680</text>
<text x="1250.0" y="785.0" font-size="25.50" textLength="20.0" lengthAdjust="spacingAndGlyphs" class="sp">3.</text>
<path d="M1274.6 773.8L1278.0 773.8M1276.3 769.5L1276.3 786.5M1274.0 779.7L1278.0 777.1M1279.7 771.2L1284.2 771.2M1279.7 771.2L1279.7 781.4M1284.2 771.2L1284.2 781.4M1279.7 776.3L1284.2 776.3M1279.7 781.4L1284.2 781.4M1280.8 781.4L1279.1 786.5M1283.0 781.4L1284.7 786.5M1291.9 769.5L1291.9 772.0M1287.4 772.9L1296.4 772.9M1287.4 772.9L1287.4 775.5M1296.4 772.9L1296.4 775.5M1288.5 777.1L1295.3 777.1M1291.9 777.1L1291.9 785.6M1291.9 781.4L1295.3 781.4M1289.6 779.7L1287.4 786.5M1289.6 783.1L1297.5 786.0" stroke="#000" stroke-width="2.0" fill="none" stroke-linecap="square"/>
<text x="1298.3" y="785.0" font-size="25.50" textLength="441.7" lengthAdjust="spacing" class="sp">:Shell:  Copper  Alloy  C2680/SPCC</text>
<path d="M1182.7 803.6L1191.3 803.6M1182.7 803.6L1182.7 813.5M1191.3 803.6L1191.3 813.5M1182.7 808.5L1191.3 808.5M1182.7 813.5L1191.3 813.5M1187.0 800.0L1187.0 816.2M1187.0 816.2L1192.5 817.1M1195.5 801.8L1197.3 803.6M1195.1 807.2L1197.1 809.0M1195.5 817.1L1197.6 811.7M1199.2 802.7L1206.5 802.7M1202.2 800.0L1202.2 802.7M1200.4 806.3L1205.9 806.3M1199.8 809.9L1199.8 818.0M1202.2 809.9L1202.2 818.0M1204.7 809.9L1204.7 817.1M1204.7 817.1L1206.9 817.1" stroke="#000" stroke-width="2.0" fill="none" stroke-linecap="square"/>
<text x="1208.0" y="816.7" font-size="25.50" textLength="83.7" lengthAdjust="spacing" class="sp">:Finish:</text>
<text x="1251.7" y="848.3" font-size="25.50" textLength="18.3" lengthAdjust="spacingAndGlyphs" class="sp">1.</text>
<path d="M1274.0 834.7L1275.7 836.4M1273.7 839.8L1275.5 841.5M1274.0 849.1L1275.9 844.0M1277.4 835.5L1284.2 835.5M1280.2 833.0L1280.2 835.5M1278.5 839.0L1283.6 839.0M1278.0 842.4L1278.0 850.0M1280.2 842.4L1280.2 850.0M1282.5 842.4L1282.5 849.1M1282.5 849.1L1284.5 849.1M1286.3 838.1L1290.8 838.1M1288.5 833.0L1288.5 850.0M1288.5 839.0L1286.3 845.8M1288.5 839.8L1290.8 843.2M1291.9 834.7L1297.0 834.7M1291.9 834.7L1291.9 848.3M1291.9 841.5L1297.0 841.5M1297.0 834.7L1297.0 848.3M1291.9 848.3L1297.0 848.3M1294.4 834.7L1294.4 848.3" stroke="#000" stroke-width="2.0" fill="none" stroke-linecap="square"/>
<text x="1298.3" y="848.3" font-size="25.50" textLength="503.4" lengthAdjust="spacing" class="sp">:Contact:  Piated  Gold  in  Mating  Area;</text>
<text x="1351.7" y="876.7" font-size="25.50" textLength="255.0" lengthAdjust="spacing" class="sp">Tin  On  Solder  Talls</text>
<path d="M1211.3 898.5L1211.3 901.0M1206.9 901.9L1215.8 901.9M1206.9 901.9L1206.9 904.5M1215.8 901.9L1215.8 904.5M1208.0 906.1L1214.7 906.1M1211.3 906.1L1211.3 914.6M1211.3 910.4L1214.7 910.4M1209.1 908.7L1206.9 915.5M1209.1 912.1L1216.9 915.0M1220.1 901.9L1227.9 901.9M1220.1 901.9L1220.1 911.2M1227.9 901.9L1227.9 911.2M1220.1 906.5L1227.9 906.5M1220.1 911.2L1227.9 911.2M1224.0 898.5L1224.0 913.8M1224.0 913.8L1229.0 914.6M1231.6 900.2L1233.3 901.9M1231.3 905.3L1233.1 907.0M1231.6 914.6L1233.5 909.5M1235.0 901.0L1241.7 901.0M1237.8 898.5L1237.8 901.0M1236.1 904.5L1241.1 904.5M1235.5 907.9L1235.5 915.5M1237.8 907.9L1237.8 915.5M1240.0 907.9L1240.0 914.6M1240.0 914.6L1242.0 914.6M1243.7 903.6L1248.2 903.6M1246.0 898.5L1246.0 915.5M1246.0 904.5L1243.7 911.2M1246.0 905.3L1248.2 908.7M1249.3 900.2L1254.3 900.2M1249.3 900.2L1249.3 913.8M1249.3 907.0L1254.3 907.0M1254.3 900.2L1254.3 913.8M1249.3 913.8L1254.3 913.8M1251.8 900.2L1251.8 913.8M1257.5 902.8L1260.9 902.8M1259.2 898.5L1259.2 915.5M1257.0 908.7L1260.9 906.1M1262.5 900.2L1267.0 900.2M1262.5 900.2L1262.5 910.4M1267.0 900.2L1267.0 910.4M1262.5 905.3L1267.0 905.3M1262.5 910.4L1267.0 910.4M1263.6 910.4L1262.0 915.5M1265.9 910.4L1267.5 915.5" stroke="#000" stroke-width="2.0" fill="none" stroke-linecap="square"/>
<text x="1269.3" y="914.0" font-size="25.50" textLength="127.4" lengthAdjust="spacing" class="sp">50U”(MIN)</text>
<path d="M1399.3 901.9L1407.4 901.9M1399.3 901.9L1399.3 911.2M1407.4 901.9L1407.4 911.2M1399.3 906.5L1407.4 906.5M1399.3 911.2L1407.4 911.2M1403.4 898.5L1403.4 913.8M1403.4 913.8L1408.6 914.6" stroke="#000" stroke-width="2.0" fill="none" stroke-linecap="square"/>
<text x="1410.0" y="914.0" font-size="25.50" textLength="8.0" lengthAdjust="spacing" class="sp">,</text>
<path d="M1419.1 903.6L1423.5 903.6M1421.3 898.5L1421.3 915.5M1421.3 904.5L1419.1 911.2M1421.3 905.3L1423.5 908.7M1424.6 900.2L1429.7 900.2M1424.6 900.2L1424.6 913.8M1424.6 907.0L1429.7 907.0M1429.7 900.2L1429.7 913.8M1424.6 913.8L1429.7 913.8M1427.1 900.2L1427.1 913.8M1432.9 902.8L1436.2 902.8M1434.5 898.5L1434.5 915.5M1432.3 908.7L1436.2 906.1M1437.9 900.2L1442.3 900.2M1437.9 900.2L1437.9 910.4M1442.3 900.2L1442.3 910.4M1437.9 905.3L1442.3 905.3M1437.9 910.4L1442.3 910.4M1439.0 910.4L1437.3 915.5M1441.2 910.4L1442.9 915.5M1450.0 898.5L1450.0 901.0M1445.5 901.9L1454.5 901.9M1445.5 901.9L1445.5 904.5M1454.5 901.9L1454.5 904.5M1446.7 906.1L1453.3 906.1M1450.0 906.1L1450.0 914.6M1450.0 910.4L1453.3 910.4M1447.8 908.7L1445.5 915.5M1447.8 912.1L1455.6 915.0M1458.8 901.9L1466.6 901.9M1458.8 901.9L1458.8 911.2M1466.6 901.9L1466.6 911.2M1458.8 906.5L1466.6 906.5M1458.8 911.2L1466.6 911.2M1462.7 898.5L1462.7 913.8M1462.7 913.8L1467.7 914.6M1470.3 900.2L1472.0 901.9M1470.0 905.3L1471.8 907.0M1470.3 914.6L1472.2 909.5M1473.7 901.0L1480.4 901.0M1476.5 898.5L1476.5 901.0M1474.8 904.5L1479.8 904.5M1474.2 907.9L1474.2 915.5M1476.5 907.9L1476.5 915.5M1478.7 907.9L1478.7 914.6M1478.7 914.6L1480.7 914.6" stroke="#000" stroke-width="2.0" fill="none" stroke-linecap="square"/>
<text x="1483.3" y="914.0" font-size="25.50" textLength="138.4" lengthAdjust="spacing" class="sp">100—200U”</text>
<path d="M1623.5 902.8L1626.9 902.8M1625.2 898.5L1625.2 915.5M1623.0 908.7L1626.9 906.1M1628.5 900.2L1632.9 900.2M1628.5 900.2L1628.5 910.4M1632.9 900.2L1632.9 910.4M1628.5 905.3L1632.9 905.3M1628.5 910.4L1632.9 910.4M1629.6 910.4L1628.0 915.5M1631.8 910.4L1633.5 915.5M1640.5 898.5L1640.5 901.0M1636.0 901.9L1644.9 901.9M1636.0 901.9L1636.0 904.5M1644.9 901.9L1644.9 904.5M1637.2 906.1L1643.8 906.1M1640.5 906.1L1640.5 914.6M1640.5 910.4L1643.8 910.4M1638.2 908.7L1636.0 915.5M1638.2 912.1L1646.0 915.0" stroke="#000" stroke-width="2.0" fill="none" stroke-linecap="square"/>
<text x="1650.0" y="914.0" font-size="25.50" textLength="51.7" lengthAdjust="spacingAndGlyphs" class="sp">1U”</text>
<text x="1250.0" y="953.3" font-size="25.50" textLength="20.0" lengthAdjust="spacingAndGlyphs" class="sp">2.</text>
<path d="M1274.6 942.2L1278.0 942.2M1276.3 938.0L1276.3 955.0M1274.0 948.2L1278.0 945.6M1279.7 939.7L1284.2 939.7M1279.7 939.7L1279.7 949.9M1284.2 939.7L1284.2 949.9M1279.7 944.8L1284.2 944.8M1279.7 949.9L1284.2 949.9M1280.8 949.9L1279.1 955.0M1283.0 949.9L1284.7 955.0M1291.9 938.0L1291.9 940.5M1287.4 941.4L1296.4 941.4M1287.4 941.4L1287.4 944.0M1296.4 941.4L1296.4 944.0M1288.5 945.6L1295.3 945.6M1291.9 945.6L1291.9 954.1M1291.9 949.9L1295.3 949.9M1289.6 948.2L1287.4 955.0M1289.6 951.6L1297.5 954.5" stroke="#000" stroke-width="2.0" fill="none" stroke-linecap="square"/>
<text x="1298.3" y="953.3" font-size="25.50" textLength="73.4" lengthAdjust="spacing" class="sp">:Shell:</text>
<path d="M1301.3 966.2L1303.0 967.9M1301.0 971.3L1302.7 973.0M1301.3 980.6L1303.2 975.5M1304.6 967.0L1311.2 967.0M1307.4 964.5L1307.4 967.0M1305.7 970.5L1310.7 970.5M1305.2 973.9L1305.2 981.5M1307.4 973.9L1307.4 981.5M1309.6 973.9L1309.6 980.6M1309.6 980.6L1311.6 980.6M1313.3 969.6L1317.7 969.6M1315.5 964.5L1315.5 981.5M1315.5 970.5L1313.3 977.2M1315.5 971.3L1317.7 974.7M1318.8 966.2L1323.8 966.2M1318.8 966.2L1318.8 979.8M1318.8 973.0L1323.8 973.0M1323.8 966.2L1323.8 979.8M1318.8 979.8L1323.8 979.8M1321.2 966.2L1321.2 979.8M1326.9 968.8L1330.2 968.8M1328.6 964.5L1328.6 981.5M1326.4 974.7L1330.2 972.1M1331.9 966.2L1336.3 966.2M1331.9 966.2L1331.9 976.4M1336.3 966.2L1336.3 976.4M1331.9 971.3L1336.3 971.3M1331.9 976.4L1336.3 976.4M1333.0 976.4L1331.3 981.5M1335.2 976.4L1336.9 981.5M1343.9 964.5L1343.9 967.0M1339.5 967.9L1348.3 967.9M1339.5 967.9L1339.5 970.5M1348.3 967.9L1348.3 970.5M1340.6 972.1L1347.2 972.1M1343.9 972.1L1343.9 980.6M1343.9 976.4L1347.2 976.4M1341.7 974.7L1339.5 981.5M1341.7 978.1L1349.4 981.0M1352.6 967.9L1360.3 967.9M1352.6 967.9L1352.6 977.2M1360.3 967.9L1360.3 977.2M1352.6 972.5L1360.3 972.5M1352.6 977.2L1360.3 977.2M1356.4 964.5L1356.4 979.8M1356.4 979.8L1361.4 980.6" stroke="#000" stroke-width="2.0" fill="none" stroke-linecap="square"/>
<text x="1363.3" y="980.0" font-size="25.50" textLength="128.4" lengthAdjust="spacing" class="sp">80U”(MIN)</text>
<path d="M1497.5 964.5L1497.5 967.0M1493.4 967.9L1501.6 967.9M1493.4 967.9L1493.4 970.5M1501.6 967.9L1501.6 970.5M1494.4 972.1L1500.6 972.1M1497.5 972.1L1497.5 980.6M1497.5 976.4L1500.6 976.4M1495.5 974.7L1493.4 981.5M1495.5 978.1L1502.6 981.0" stroke="#000" stroke-width="2.0" fill="none" stroke-linecap="square"/>
<text x="1470.0" y="1019.3" font-size="25.50" textLength="175.0" lengthAdjust="spacing" class="sp">Nickel  Plating</text>
<g stroke="#000" fill="none" stroke-linejoin="round" stroke-linecap="round">
<line x1="333.4" y1="266.6" x2="333.4" y2="297.6" stroke-width="1.3" stroke="#222"/>
<line x1="532.0" y1="266.6" x2="532.0" y2="297.6" stroke-width="1.3" stroke="#222"/>
<line x1="333.4" y1="276.4" x2="362.3" y2="276.4" stroke-width="1.6" stroke="#000"/>
<line x1="503.0" y1="276.4" x2="532.0" y2="276.4" stroke-width="1.6" stroke="#000"/>
<path d="M333.4 276.4L343.9 274.3L343.9 278.5Z" fill="#000" stroke="none"/>
<path d="M532.0 276.4L521.5 278.5L521.5 274.3Z" fill="#000" stroke="none"/>
<text x="375.2" y="284.2" font-size="23.26" textLength="115.7" lengthAdjust="spacingAndGlyphs" class="dm">10.0±0.15</text>
<line x1="220.8" y1="307.9" x2="324.9" y2="307.9" stroke-width="1.6" stroke="#222"/>
<line x1="541.3" y1="307.9" x2="607.6" y2="307.9" stroke-width="1.6" stroke="#222"/>
<line x1="220.8" y1="541.0" x2="324.9" y2="541.0" stroke-width="1.6" stroke="#222"/>
<line x1="269.9" y1="501.6" x2="324.9" y2="501.6" stroke-width="1.2" stroke="#222"/>
<line x1="535.8" y1="420.2" x2="607.6" y2="420.2" stroke-width="1.2" stroke="#222"/>
<line x1="231.2" y1="307.9" x2="231.2" y2="381.5" stroke-width="1.6" stroke="#000"/>
<line x1="231.2" y1="461.6" x2="231.2" y2="541.0" stroke-width="1.6" stroke="#000"/>
<path d="M231.2 307.9L233.3 318.4L229.1 318.4Z" fill="#000" stroke="none"/>
<path d="M231.2 541.0L229.1 530.5L233.3 530.5Z" fill="#000" stroke="none"/>
<text transform="translate(231.8 424.2) rotate(-90)" x="0" y="8.4" font-size="24.42" text-anchor="middle" textLength="51.7" lengthAdjust="spacingAndGlyphs" class="dm">11.80</text>
<line x1="279.2" y1="307.9" x2="279.2" y2="368.6" stroke-width="1.3" stroke="#000"/>
<line x1="279.2" y1="439.6" x2="279.2" y2="501.6" stroke-width="1.3" stroke="#000"/>
<path d="M279.2 307.9L281.3 318.4L277.1 318.4Z" fill="#000" stroke="none"/>
<path d="M279.2 501.6L277.1 491.1L281.3 491.1Z" fill="#000" stroke="none"/>
<text transform="translate(278.7 403.9) rotate(-90)" x="0" y="8.4" font-size="24.42" text-anchor="middle" textLength="45.7" lengthAdjust="spacingAndGlyphs" class="dm">9.80</text>
<line x1="596.5" y1="307.9" x2="596.5" y2="430.0" stroke-width="1.5" stroke="#000"/>
<line x1="596.5" y1="430.0" x2="587.0" y2="430.0" stroke-width="1.5" stroke="#000"/>
<path d="M596.5 307.9L598.6 318.4L594.4 318.4Z" fill="#000" stroke="none"/>
<path d="M596.5 420.2L594.4 409.7L598.6 409.7Z" fill="#000" stroke="none"/>
<text x="470.8" y="437.8" font-size="23.26" textLength="105.3" lengthAdjust="spacingAndGlyphs" class="dm">5.70±0.10</text>
<line x1="334.5" y1="550.6" x2="334.5" y2="592.0" stroke-width="1.3" stroke="#222"/>
<line x1="339.1" y1="550.6" x2="339.1" y2="592.0" stroke-width="1.3" stroke="#222"/>
<line x1="312.8" y1="580.8" x2="359.8" y2="580.8" stroke-width="1.6" stroke="#000"/>
<path d="M334.5 580.8L326.5 582.6L326.5 579.0Z" fill="#000" stroke="none"/>
<path d="M339.1 580.8L347.1 579.0L347.1 582.6Z" fill="#000" stroke="none"/>
<text x="255.2" y="588.6" font-size="23.26" textLength="46.5" lengthAdjust="spacingAndGlyphs" class="dm">0.25</text>
<line x1="333.5" y1="307.9" x2="532.0" y2="307.9" stroke-width="2"/>
<line x1="532.0" y1="307.9" x2="532.0" y2="420.2" stroke-width="1.4"/>
<line x1="333.8" y1="307.9" x2="333.8" y2="541.0" stroke-width="1.8"/>
<line x1="333.5" y1="313.8" x2="532.0" y2="313.8" stroke-width="1.7" stroke-dasharray="13 2.5" stroke-linecap="butt"/>
<line x1="340.4" y1="414.4" x2="532.0" y2="414.4" stroke-width="1.1" stroke-dasharray="12 2.5" stroke-linecap="butt"/>
<line x1="339.8" y1="395.0" x2="339.8" y2="541.0" stroke-width="1.6"/>
<line x1="333.8" y1="541.0" x2="339.8" y2="541.0" stroke-width="1.6"/>
<rect x="333.8" y="331.5" width="69.4" height="63" stroke-width="1.8"/>
<path d="M404.1 340.3L430.6 340.3Q435.6 340.3 435.6 345.3Q435.6 350.3 430.6 350.3L404.1 353.1" stroke-width="1.6"/>
<path d="M404.1 374.6L430.6 377.4Q435.6 377.4 435.6 382.4Q435.6 387.3 430.6 387.3L404.1 387.3" stroke-width="1.6"/>
<path d="M397.4 307.6L459.9 313.2L462.2 314.9L470.5 326.3Q472.8 328 475 326.3L485.1 314.9L488.6 312.3L492.6 317.2L479.4 330.4Q472.5 335 466.8 331L462.2 325.2L457.6 318.3L397.4 308.2" stroke-width="1.5"/>
<path d="M397.1 414.45L456.7 408.7Q460 407.8 461.5 404L463.4 399.2Q467 394.5 472.2 394.5Q476 394.5 479.7 397.5L492.5 410.7L488.5 415.1L474.9 401.2Q472.5 399.5 471.6 400.6Q469 401 468.2 402.6L461.4 413.4Q460 414.8 458 414.8L397.1 420.6" stroke-width="1.5"/>
<path d="M377.6 511.6L377.6 424.6Q377.6 421.3 380.6 421.3L443.4 421.3L462.2 426.3L462.2 500.9" stroke-width="1.6"/>
<line x1="377.6" y1="442.0" x2="462.2" y2="442.0" stroke-width="1.3"/>
<line x1="333.8" y1="500.9" x2="462.2" y2="500.9" stroke-width="1.3"/>
<rect x="357.6" y="411.9" width="10" height="60.2" rx="5" stroke-width="1.6"/>
<path d="M334.4 420Q338.5 423 338.5 430L338.5 483.4L340.5 485.9L345 485.9Q347.3 485.9 347.3 489L347.3 511.6L343.8 525.3L350 540.5Q352 544.1 354.5 544.1Q358.2 544.1 358.2 540L358.2 497Q358.2 494.6 362.2 494.6Q366.1 494.6 366.1 497L366.1 540Q366.1 544.1 370 544.1Q372.5 544.1 374 540.5L380.2 525.3L377.6 511.6" stroke-width="1.6"/>
</g>
<g stroke="#000" fill="none" stroke-linejoin="round" stroke-linecap="round">
<line x1="791.3" y1="251.2" x2="791.3" y2="312.2" stroke-width="1.3" stroke="#222"/>
<line x1="1051.8" y1="251.2" x2="1051.8" y2="312.7" stroke-width="1.3" stroke="#222"/>
<line x1="791.3" y1="260.5" x2="853.4" y2="260.5" stroke-width="1.6" stroke="#000"/>
<line x1="989.4" y1="260.5" x2="1051.8" y2="260.5" stroke-width="1.6" stroke="#000"/>
<path d="M791.3 260.5L801.8 258.4L801.8 262.6Z" fill="#000" stroke="none"/>
<path d="M1051.8 260.5L1041.3 262.6L1041.3 258.4Z" fill="#000" stroke="none"/>
<text x="864.7" y="268.0" font-size="23.26" textLength="113.5" lengthAdjust="spacingAndGlyphs" class="dm">13.15±0.10</text>
<line x1="1049.7" y1="307.7" x2="1097.7" y2="307.7" stroke-width="1.6" stroke="#222"/>
<line x1="1058.0" y1="545.0" x2="1097.3" y2="545.0" stroke-width="1.6" stroke="#222"/>
<line x1="1087.7" y1="307.7" x2="1087.7" y2="361.4" stroke-width="1.6" stroke="#000"/>
<line x1="1087.7" y1="490.9" x2="1087.7" y2="545.0" stroke-width="1.6" stroke="#000"/>
<path d="M1087.7 307.7L1089.8 318.2L1085.6 318.2Z" fill="#000" stroke="none"/>
<path d="M1087.7 545.0L1085.6 534.5L1089.8 534.5Z" fill="#000" stroke="none"/>
<text transform="translate(1088.2 425.8) rotate(-90)" x="0" y="8.4" font-size="24.42" text-anchor="middle" textLength="107.9" lengthAdjust="spacingAndGlyphs" class="dm">12.0±0.25</text>
<line x1="734.3" y1="501.2" x2="770.0" y2="501.2" stroke-width="1.3" stroke="#222"/>
<line x1="734.3" y1="541.0" x2="828.2" y2="541.0" stroke-width="1.8" stroke="#222"/>
<line x1="745.2" y1="481.1" x2="745.2" y2="561.0" stroke-width="1.5" stroke="#000"/>
<line x1="735.1" y1="561.0" x2="745.2" y2="561.0" stroke-width="1.5" stroke="#000"/>
<path d="M745.2 501.2L743.4 492.2L747.0 492.2Z" fill="#000" stroke="none"/>
<path d="M745.2 541.0L747.0 550.0L743.4 550.0Z" fill="#000" stroke="none"/>
<text x="679.1" y="568.6" font-size="23.26" textLength="44.0" lengthAdjust="spacingAndGlyphs" class="dm">2.00</text>
<line x1="849.2" y1="551.2" x2="849.2" y2="605.9" stroke-width="1.3" stroke="#222"/>
<line x1="988.0" y1="551.2" x2="988.0" y2="605.9" stroke-width="1.3" stroke="#222"/>
<line x1="849.2" y1="596.0" x2="880.1" y2="596.0" stroke-width="1.6" stroke="#000"/>
<line x1="933.3" y1="596.0" x2="988.0" y2="596.0" stroke-width="1.6" stroke="#000"/>
<path d="M849.2 596.0L859.7 593.9L859.7 598.1Z" fill="#000" stroke="none"/>
<path d="M988.0 596.0L977.5 598.1L977.5 593.9Z" fill="#000" stroke="none"/>
<text x="892.7" y="603.9" font-size="23.26" textLength="29.4" lengthAdjust="spacingAndGlyphs" class="dm">7.0</text>
<line x1="898.3" y1="551.2" x2="898.3" y2="580.6" stroke-width="1.3" stroke="#222"/>
<line x1="938.4" y1="551.2" x2="938.4" y2="580.6" stroke-width="1.3" stroke="#222"/>
<line x1="878.7" y1="570.3" x2="898.3" y2="570.3" stroke-width="1.3" stroke="#000"/>
<line x1="938.4" y1="570.3" x2="993.6" y2="570.3" stroke-width="1.3" stroke="#000"/>
<path d="M898.3 570.3L889.3 572.1L889.3 568.5Z" fill="#000" stroke="none"/>
<path d="M938.4 570.3L947.4 568.5L947.4 572.1Z" fill="#000" stroke="none"/>
<text x="1004.8" y="577.8" font-size="23.26" textLength="31.4" lengthAdjust="spacingAndGlyphs" class="dm">2.0</text>
<path d="M791.5 411L791.5 319Q791.5 307.5 803 307.5L1040 307.5Q1051.8 307.5 1051.8 319.3" stroke-width="1.4"/>
<line x1="1051.8" y1="319.3" x2="1051.8" y2="409.0" stroke-width="1.9"/>
<path d="M794.3 332L794.3 324Q794.3 313.5 805 313.5L1040 313.5Q1045.7 313.5 1045.7 320L1045.7 409Q1045.7 414.3 1040.8 414.5" stroke-width="2.0"/>
<path d="M797.1 316.6L797.1 408Q797.1 414.3 803 414.3L1040 414.3" stroke-width="1.6"/>
<path d="M794.9 331.5L772.7 331.5L772.7 394.6L794.9 394.6L794.9 410.6" stroke-width="1.6"/>
<path d="M1051.8 331L1062.3 331L1062.3 395.1L1040.8 395.1L1040.8 442.1" stroke-width="1.6"/>
<rect x="797.6" y="342.6" width="10" height="43.1" stroke-width="1.6"/>
<rect x="1034.7" y="342.6" width="10.5" height="43.1" stroke-width="1.6"/>
<rect x="839.1" y="314.4" width="35.4" height="19.3" stroke-width="1.6"/>
<rect x="967.7" y="314.4" width="35.7" height="19.3" stroke-width="1.6"/>
<line x1="839.1" y1="330.5" x2="874.5" y2="330.5" stroke-width="2.2" stroke="#333"/>
<line x1="967.7" y1="330.5" x2="1003.4" y2="330.5" stroke-width="2.2" stroke="#333"/>
<rect x="839.1" y="393.8" width="35.4" height="20.4" stroke-width="1.6"/>
<rect x="967.7" y="393.8" width="35.7" height="20.4" stroke-width="1.6"/>
<line x1="839.1" y1="400.1" x2="874.5" y2="400.1" stroke-width="1.6"/>
<line x1="967.7" y1="399.8" x2="1003.4" y2="399.8" stroke-width="1.6"/>
<path d="M813.7 372.4L813.7 336.5L818.5 330Q820 329 823 329.2L1019 329.2Q1023 329.2 1026 331.5L1029.7 336L1029.7 372.4Z" stroke-width="1.8"/>
<path d="M814.8 333.2L823.6 339.2L823.6 353.1L819.2 366.4" stroke-width="1.4"/>
<path d="M1020.6 331L1020.3 339.2L1020.3 352.5L1025.3 365.8" stroke-width="1.4"/>
<line x1="823.6" y1="339.3" x2="1020.3" y2="339.3" stroke-width="1.8"/>
<line x1="823.6" y1="353.6" x2="1020.3" y2="353.6" stroke-width="1.6"/>
<line x1="813.7" y1="366.4" x2="1029.7" y2="366.4" stroke-width="1.6"/>
<rect x="840.2" y="366.4" width="23.8" height="11" stroke-width="1.6" fill="#fff"/>
<rect x="889.9" y="366.4" width="23.8" height="11" stroke-width="1.6" fill="#fff"/>
<rect x="929.7" y="366.4" width="23.3" height="11" stroke-width="1.6" fill="#fff"/>
<rect x="978.8" y="366.4" width="23.8" height="11" stroke-width="1.6" fill="#fff"/>
<line x1="803.0" y1="414.3" x2="1040.0" y2="414.3" stroke-width="1.4"/>
<path d="M799.3 442L799.3 424Q799.3 420.2 803 420.2L1041 420.2Q1045.5 420.2 1045.5 424L1045.5 545" stroke-width="1.4"/>
<line x1="794.2" y1="442.1" x2="1040.8" y2="442.1" stroke-width="1.3"/>
<path d="M792.8 420L792.8 545.4L798.9 545.4L798.9 424" stroke-width="1.8"/>
<line x1="792.8" y1="479.1" x2="798.9" y2="479.1" stroke-width="1.0"/>
<line x1="792.8" y1="542.6" x2="798.9" y2="542.6" stroke-width="1.0"/>
<path d="M792.8 470.8Q788.9 470.8 788.9 466L788.9 417Q788.9 413 792.8 413" stroke-width="1.4"/>
<path d="M1051.8 409L1051.8 545.4L1045.5 545.4" stroke-width="1.8"/>
<path d="M1051.8 469.3Q1056 469.3 1056 465L1056 419Q1056 415.6 1051.8 415.6" stroke-width="1.4"/>
<line x1="1045.5" y1="479.3" x2="1051.8" y2="479.3" stroke-width="1.0"/>
<line x1="1045.5" y1="424.0" x2="1045.5" y2="545.4" stroke-width="1.9"/>
<line x1="1025.9" y1="441.8" x2="1025.9" y2="501.2" stroke-width="1.3"/>
<line x1="770.0" y1="501.2" x2="1025.9" y2="501.2" stroke-width="1.3"/>
<path d="M837.3 528L837.3 427.7L861.5 427.7L861.5 528L855.6 541L843.2 541Z" stroke-width="1.6"/>
<line x1="837.3" y1="427.7" x2="861.5" y2="427.7" stroke-width="2.4"/>
<path d="M893.5 528L893.5 427.7L903.7 427.7L903.7 528L901 541L896.9 541Z" stroke-width="1.6"/>
<line x1="893.5" y1="427.7" x2="903.7" y2="427.7" stroke-width="2.4"/>
<line x1="893.5" y1="431.9" x2="903.7" y2="431.9" stroke-width="1.3"/>
<path d="M933.3 528L933.3 427.7L943.7 427.7L943.7 528L940.5 541L936.5 541Z" stroke-width="1.6"/>
<line x1="933.3" y1="427.7" x2="943.7" y2="427.7" stroke-width="2.4"/>
<line x1="933.3" y1="431.9" x2="943.7" y2="431.9" stroke-width="1.3"/>
<path d="M976 528L976 427.7L999.8 427.7L999.8 528L993.9 541L981.9 541Z" stroke-width="1.6"/>
<line x1="976.0" y1="427.7" x2="999.8" y2="427.7" stroke-width="2.4"/>
</g>
<g stroke="#000" fill="none" stroke-linejoin="round" stroke-linecap="round">
<line x1="284.3" y1="789.2" x2="324.5" y2="789.2" stroke-width="1.6" stroke="#222"/>
<line x1="284.3" y1="1077.8" x2="324.5" y2="1077.8" stroke-width="1.6" stroke="#222"/>
<line x1="294.1" y1="789.2" x2="294.1" y2="892.9" stroke-width="1.6" stroke="#000"/>
<line x1="294.1" y1="973.2" x2="294.1" y2="1077.8" stroke-width="1.6" stroke="#000"/>
<path d="M294.1 789.2L296.2 799.7L292.0 799.7Z" fill="#000" stroke="none"/>
<path d="M294.1 1077.8L292.0 1067.3L296.2 1067.3Z" fill="#000" stroke="none"/>
<text transform="translate(294.8 933.0) rotate(-90)" x="0" y="8.2" font-size="23.98" text-anchor="middle" textLength="58.4" lengthAdjust="spacingAndGlyphs" class="dm">14.60</text>
<g>
<line x1="333.9" y1="789.2" x2="333.9" y2="933.5" stroke-width="1.8"/>
<path d="M333.9 789.2L403.5 789.2L403.5 797.7Q400 800.5 394.6 801.8" stroke-width="1.5"/>
<line x1="333.9" y1="803.6" x2="532.1" y2="803.6" stroke-width="1.5"/>
<line x1="532.1" y1="803.6" x2="532.1" y2="933.5" stroke-width="1.8"/>
<path d="M333.9 810.9L456 810.9Q461.9 811.5 461.9 816L461.9 830.7L383.4 830.7L383.4 924.5L403.5 924.5L403.5 933.5" stroke-width="1.6"/>
<rect x="333.9" y="827" width="40.1" height="54.7" stroke-width="1.8"/>
<rect x="333.9" y="897.8" width="40.1" height="28.5" stroke-width="1.8"/>
<rect x="333.9" y="852.6" width="6.4" height="23.6" stroke-width="1.6"/>
<rect x="333.9" y="905.1" width="6.4" height="17.1" stroke-width="1.6"/>
<path d="M358.6 809L358.6 801.8L392.9 801.8" stroke-width="1.3"/>
<path d="M371 803.6L414.7 819.5Q418 820.5 421.8 820.1L431.2 803L434.2 806L418.2 814.8L380.5 804.2" stroke-width="1.3"/>
<rect x="479" y="803.6" width="7.1" height="5.3" stroke-width="1.3"/>
<path d="M422 839L436 839Q445 841 453 844.9L505.6 844.9Q509.7 845.5 509.7 850.8L509.7 898Q509.7 903.9 503.2 903.9L454.8 903.9Q445 906 436 910.4L422 910.4Q418.2 910.4 418.2 905.4Q418.2 900.4 422 900.4L427.7 900.4Q440 897 452.5 892.1L483.1 892.1Q491.4 891 491.4 883.9L491.4 862.6Q491.4 856.7 485.5 856.7L451.9 856.7Q440 852 428.9 848.5L422 848.5Q418.2 848.5 418.2 843.7Q418.2 839 422 839Z" stroke-width="1.5"/>
<rect x="415.9" y="868.5" width="39.5" height="11.8" rx="5" stroke-width="1.5"/>
<rect x="486.1" y="861.4" width="5.9" height="24.8" rx="1.5" stroke-width="1.3"/>
</g>
<g transform="matrix(1 0 0 -1 0 1867)">
<line x1="333.9" y1="789.2" x2="333.9" y2="933.5" stroke-width="1.8"/>
<path d="M333.9 789.2L403.5 789.2L403.5 797.7Q400 800.5 394.6 801.8" stroke-width="1.5"/>
<line x1="333.9" y1="803.6" x2="532.1" y2="803.6" stroke-width="1.5"/>
<line x1="532.1" y1="803.6" x2="532.1" y2="933.5" stroke-width="1.8"/>
<path d="M333.9 810.9L456 810.9Q461.9 811.5 461.9 816L461.9 830.7L383.4 830.7L383.4 924.5L403.5 924.5L403.5 933.5" stroke-width="1.6"/>
<rect x="333.9" y="827" width="40.1" height="54.7" stroke-width="1.8"/>
<rect x="333.9" y="897.8" width="40.1" height="28.5" stroke-width="1.8"/>
<rect x="333.9" y="852.6" width="6.4" height="23.6" stroke-width="1.6"/>
<rect x="333.9" y="905.1" width="6.4" height="17.1" stroke-width="1.6"/>
<path d="M358.6 809L358.6 801.8L392.9 801.8" stroke-width="1.3"/>
<path d="M371 803.6L414.7 819.5Q418 820.5 421.8 820.1L431.2 803L434.2 806L418.2 814.8L380.5 804.2" stroke-width="1.3"/>
<rect x="479" y="803.6" width="7.1" height="5.3" stroke-width="1.3"/>
<path d="M422 839L436 839Q445 841 453 844.9L505.6 844.9Q509.7 845.5 509.7 850.8L509.7 898Q509.7 903.9 503.2 903.9L454.8 903.9Q445 906 436 910.4L422 910.4Q418.2 910.4 418.2 905.4Q418.2 900.4 422 900.4L427.7 900.4Q440 897 452.5 892.1L483.1 892.1Q491.4 891 491.4 883.9L491.4 862.6Q491.4 856.7 485.5 856.7L451.9 856.7Q440 852 428.9 848.5L422 848.5Q418.2 848.5 418.2 843.7Q418.2 839 422 839Z" stroke-width="1.5"/>
<rect x="415.9" y="868.5" width="39.5" height="11.8" rx="5" stroke-width="1.5"/>
<rect x="486.1" y="861.4" width="5.9" height="24.8" rx="1.5" stroke-width="1.3"/>
</g>
<line x1="333.9" y1="808.9" x2="532.1" y2="808.9" stroke-width="2.2" stroke-dasharray="9 4.5" stroke-linecap="butt"/>
<line x1="333.9" y1="1056.3" x2="383.9" y2="1056.3" stroke-width="2.2"/>
<path d="M403.5 932.9L425.2 932.9Q426.6 932 426.6 928L426.6 921.7L451.8 921.7L449 942.7Q449.5 944.8 452 944.8L486.2 944.8L484.1 923.1L510 923.1Q511.4 924 511.4 928Q512 932.9 515 932.9L531.7 932.9" stroke-width="1.6"/>
</g>
<g stroke="#000" fill="none" stroke-linejoin="round" stroke-linecap="round">
<line x1="761.0" y1="723.1" x2="761.0" y2="871.3" stroke-width="1.4" stroke="#222"/>
<line x1="1018.8" y1="723.1" x2="1018.8" y2="871.3" stroke-width="1.4" stroke="#222"/>
<line x1="761.0" y1="733.2" x2="851.0" y2="733.2" stroke-width="1.6" stroke="#000"/>
<line x1="928.8" y1="733.2" x2="1018.8" y2="733.2" stroke-width="1.6" stroke="#000"/>
<path d="M761.0 733.2L771.5 731.1L771.5 735.3Z" fill="#000" stroke="none"/>
<path d="M1018.8 733.2L1008.3 735.3L1008.3 731.1Z" fill="#000" stroke="none"/>
<text x="861.9" y="741.4" font-size="23.26" textLength="55.1" lengthAdjust="spacingAndGlyphs" class="dm">13.00</text>
<line x1="820.4" y1="761.8" x2="820.4" y2="844.2" stroke-width="1.4" stroke="#222"/>
<line x1="959.6" y1="761.8" x2="959.6" y2="844.2" stroke-width="1.4" stroke="#222"/>
<line x1="820.4" y1="771.4" x2="856.5" y2="771.4" stroke-width="1.6" stroke="#000"/>
<line x1="923.3" y1="771.4" x2="959.6" y2="771.4" stroke-width="1.6" stroke="#000"/>
<path d="M820.4 771.4L830.9 769.3L830.9 773.5Z" fill="#000" stroke="none"/>
<path d="M959.6 771.4L949.1 773.5L949.1 769.3Z" fill="#000" stroke="none"/>
<text x="868.7" y="779.6" font-size="23.26" textLength="43.7" lengthAdjust="spacingAndGlyphs" class="dm">7.00</text>
<line x1="870.1" y1="804.1" x2="870.1" y2="840.4" stroke-width="1.4" stroke="#222"/>
<line x1="909.7" y1="804.1" x2="909.7" y2="840.4" stroke-width="1.4" stroke="#222"/>
<line x1="850.5" y1="814.5" x2="954.7" y2="814.5" stroke-width="1.5" stroke="#000"/>
<path d="M870.1 814.5L861.1 816.3L861.1 812.7Z" fill="#000" stroke="none"/>
<path d="M909.7 814.5L918.7 812.7L918.7 816.3Z" fill="#000" stroke="none"/>
<text x="965.6" y="822.7" font-size="23.26" textLength="44.2" lengthAdjust="spacingAndGlyphs" class="dm">2.00</text>
<rect x="797.8" y="850.5" width="44.5" height="19.1" rx="9.5" stroke-width="1.7"/>
<rect x="936.1" y="850.5" width="44.5" height="19.1" rx="9.5" stroke-width="1.7"/>
<circle cx="869.5" cy="860.1" r="9.5" stroke-width="1.7"/>
<circle cx="909.1" cy="860.1" r="9.5" stroke-width="1.7"/>
<line x1="968.3" y1="860.1" x2="1130.7" y2="860.1" stroke-width="1.4" stroke="#222"/>
<line x1="747.3" y1="886.2" x2="1130.7" y2="886.2" stroke-width="1.5"/>
<rect x="755.4" y="871.3" width="12.1" height="31" rx="6" stroke-width="1.6"/>
<path d="M1012.6 877.3Q1012.6 871.3 1018.8 871.3Q1025 871.3 1025 877.3L1025 896L1018.8 903.2L1012.6 896Z" stroke-width="1.6"/>
<line x1="755.4" y1="896.4" x2="755.4" y2="979.0" stroke-width="1.3"/>
<line x1="767.5" y1="896.4" x2="767.5" y2="979.0" stroke-width="1.5"/>
<line x1="761.0" y1="878.0" x2="761.0" y2="1023.7" stroke-width="1.5" stroke-dasharray="8 4" stroke-linecap="butt"/>
<line x1="1018.8" y1="909.6" x2="1018.8" y2="1023.7" stroke-width="1.6" stroke-dasharray="17.5 6" stroke-linecap="butt"/>
<line x1="1018.8" y1="871.3" x2="1018.8" y2="880.0" stroke-width="1.5"/>
<line x1="761.0" y1="1000.0" x2="761.0" y2="1023.7" stroke-width="1.6"/>
<line x1="1018.8" y1="1000.0" x2="1018.8" y2="1023.7" stroke-width="1.6"/>
<line x1="747.3" y1="1005.5" x2="766.0" y2="1005.5" stroke-width="1.6"/>
<line x1="747.3" y1="1005.5" x2="1032.4" y2="1005.5" stroke-width="1.6" stroke-dasharray="18 6" stroke-linecap="butt"/>
<line x1="724.1" y1="870.6" x2="751.7" y2="870.6" stroke-width="1.5" stroke="#222"/>
<line x1="724.1" y1="902.6" x2="751.7" y2="902.6" stroke-width="1.5" stroke="#222"/>
<line x1="734.5" y1="850.6" x2="734.5" y2="960.5" stroke-width="1.5" stroke="#000"/>
<line x1="724.1" y1="960.5" x2="734.5" y2="960.5" stroke-width="1.5" stroke="#000"/>
<path d="M734.5 870.6L732.7 861.6L736.3 861.6Z" fill="#000" stroke="none"/>
<path d="M734.5 902.6L736.3 911.6L732.7 911.6Z" fill="#000" stroke="none"/>
<text x="671.5" y="967.8" font-size="23.26" textLength="42.5" lengthAdjust="spacingAndGlyphs" class="dm">1.60</text>
<line x1="735.5" y1="968.6" x2="803.3" y2="968.6" stroke-width="1.5" stroke="#000"/>
<path d="M755.4 968.6L746.4 970.4L746.4 966.8Z" fill="#000" stroke="none"/>
<path d="M767.5 968.6L776.5 966.8L776.5 970.4Z" fill="#000" stroke="none"/>
<text x="814.4" y="976.8" font-size="23.26" textLength="44.2" lengthAdjust="spacingAndGlyphs" class="dm">0.60</text>
<line x1="1121.1" y1="840.4" x2="1121.1" y2="946.0" stroke-width="1.5" stroke="#000"/>
<line x1="1111.6" y1="946.0" x2="1121.1" y2="946.0" stroke-width="1.5" stroke="#000"/>
<path d="M1121.1 860.1L1119.3 851.1L1122.9 851.1Z" fill="#000" stroke="none"/>
<path d="M1121.1 886.2L1122.9 895.2L1119.3 895.2Z" fill="#000" stroke="none"/>
<text x="1054.3" y="953.7" font-size="23.26" textLength="45.5" lengthAdjust="spacingAndGlyphs" class="dm">1.33</text>
</g>
<text x="795.9" y="1066.1" font-size="17.10" textLength="90.6" lengthAdjust="spacingAndGlyphs" class="sr">RECOMMENDED</text>
<text x="905.6" y="1066.1" font-size="17.10" textLength="42.3" lengthAdjust="spacingAndGlyphs" class="sr">P. C. B</text>
<text x="957.4" y="1066.1" font-size="17.10" textLength="49.1" lengthAdjust="spacingAndGlyphs" class="sr">LAYOUT</text>
<circle cx="1386.9" cy="1057" r="29.2" fill="#000"/>
<polygon points="1357.4,1050.0 1370.4,1045.5 1388.1,1040.8 1399.9,1039.6 1411.1,1039.0 1421.1,1038.2 1421.1,1048.8 1414.6,1047.6 1408.5,1051.7 1407.6,1047.6 1404.6,1045.2 1396.9,1045.9 1388.1,1048.3 1379.8,1051.3 1376.3,1054.7 1374.1,1060.6 1373.5,1068.8 1375.1,1073.6 1370.4,1076.0 1366.3,1078.4 1362.7,1081.8 1359.8,1077.1 1365.7,1075.9 1366.9,1065.3 1368.5,1059.4 1369.2,1054.8 1356.8,1059.4 1353.9,1059.4 1353.9,1050.0" fill="#fff"/>
<polyline points="1398.4,1049.7 1393.4,1054.7 1390.2,1060.0 1394.0,1063.1 1399.6,1066.0 1400.2,1069.1 1394.0,1073.7 1385.1,1077.2 1375.7,1081.1" fill="none" stroke="#fff" stroke-width="5.6" stroke-linejoin="round" stroke-linecap="round"/>
<circle cx="1375.7" cy="1036.7" r="3.6" fill="#fff"/>
<text x="1342.1" y="1099.5" font-size="12.68" textLength="85.9" lengthAdjust="spacingAndGlyphs" class="sr">T I S C O N N</text>
<path d="M8 20H92M48 3Q35 35 22 50H80M52 28V95L44 90M30 68L12 88M70 68L90 88" transform="translate(1438.0 1041.5) scale(0.255 0.27)" fill="none" stroke="#000" stroke-width="6" stroke-linecap="round" stroke-linejoin="round"/>
<path d="M5 14H95M32 3V27M68 3V27M50 27V35M12 45V38H88V45M28 52H72M8 65H92M40 65Q38 85 15 98M60 65V92H92V82" transform="translate(1468.1 1041.5) scale(0.255 0.27)" fill="none" stroke="#000" stroke-width="6" stroke-linecap="round" stroke-linejoin="round"/>
<path d="M15 12H85M22 26H78M5 40H95M50 0V40M50 40L6 70M50 40L94 70M50 55V97L43 92M34 68L20 85M66 68L84 88M30 60L40 66M60 80L72 74" transform="translate(1498.2 1041.5) scale(0.255 0.27)" fill="none" stroke="#000" stroke-width="6" stroke-linecap="round" stroke-linejoin="round"/>
<path d="M15 8H90M15 8V60Q14 85 3 98M32 30H82M26 50H92M33 50V92L42 86M50 50Q65 80 94 96M80 60L64 72" transform="translate(1528.3 1041.5) scale(0.255 0.27)" fill="none" stroke="#000" stroke-width="6" stroke-linecap="round" stroke-linejoin="round"/>
<path d="M15 25H85V75H15ZM15 50H85M50 2V86Q50 90 56 90H94V80" transform="translate(1558.4 1041.5) scale(0.255 0.27)" fill="none" stroke="#000" stroke-width="6" stroke-linecap="round" stroke-linejoin="round"/>
<path d="M15 12H80L55 35M55 35V94L42 88M5 54H95" transform="translate(1588.5 1041.5) scale(0.255 0.27)" fill="none" stroke="#000" stroke-width="6" stroke-linecap="round" stroke-linejoin="round"/>
<path d="M38 5L6 14M3 35H45M24 8V98M24 40L4 75M26 45L40 60M60 18L68 28M58 40L66 50M52 68L98 60M80 2V98" transform="translate(1618.6 1041.5) scale(0.255 0.27)" fill="none" stroke="#000" stroke-width="6" stroke-linecap="round" stroke-linejoin="round"/>
<path d="M3 30H35M20 5V92L12 88M5 72L36 56M45 22H95M70 3V42M48 42H88Q78 72 48 96M56 54Q72 84 98 96" transform="translate(1648.7 1041.5) scale(0.255 0.27)" fill="none" stroke="#000" stroke-width="6" stroke-linecap="round" stroke-linejoin="round"/>
<path d="M5 25H95M45 5Q35 60 8 96M35 45V98M35 45H85V94L76 90M35 62H85M35 78H85" transform="translate(1678.8 1041.5) scale(0.255 0.27)" fill="none" stroke="#000" stroke-width="6" stroke-linecap="round" stroke-linejoin="round"/>
<path d="M10 5V98M10 5H30L20 28Q36 40 22 56M45 10H85V45H45ZM45 27H85M45 10V92L65 82M58 48Q72 80 96 96M86 55L70 66" transform="translate(1708.9 1041.5) scale(0.255 0.27)" fill="none" stroke="#000" stroke-width="6" stroke-linecap="round" stroke-linejoin="round"/>
<path d="M38 5Q28 30 6 48M60 5Q75 30 95 45M45 50Q35 75 20 92L85 82M68 66L90 96" transform="translate(1739.0 1041.5) scale(0.255 0.27)" fill="none" stroke="#000" stroke-width="6" stroke-linecap="round" stroke-linejoin="round"/>
<path d="M15 8H85V92L75 88M22 30H72M25 48H65V75H25Z" transform="translate(1769.1 1041.5) scale(0.255 0.27)" fill="none" stroke="#000" stroke-width="6" stroke-linecap="round" stroke-linejoin="round"/>
<text x="1442.2" y="1141.1" font-size="19.97" textLength="150.8" lengthAdjust="spacingAndGlyphs" class="mo">USB 2.0 AF DIP 90</text>
<path d="M1598.0 1130.5L1609.2 1130.5M1598.0 1130.5L1598.0 1138.8M1609.2 1130.5L1609.2 1138.8M1598.0 1134.5L1609.2 1134.5M1598.0 1138.8L1609.2 1138.8M1603.6 1127.5L1603.6 1141.0M1603.6 1141.0L1610.8 1141.8M1614.6 1129.0L1617.0 1130.5M1614.1 1133.5L1616.7 1135.0M1614.6 1141.8L1617.3 1137.2M1619.4 1129.8L1629.0 1129.8M1623.4 1127.5L1623.4 1129.8M1621.0 1132.8L1628.2 1132.8M1620.2 1135.8L1620.2 1142.5M1623.4 1135.8L1623.4 1142.5M1626.6 1135.8L1626.6 1141.8M1626.6 1141.8L1629.5 1141.8M1632.0 1132.0L1638.4 1132.0M1635.2 1127.5L1635.2 1142.5M1635.2 1132.8L1632.0 1138.8M1635.2 1133.5L1638.4 1136.5M1640.0 1129.0L1647.2 1129.0M1640.0 1129.0L1640.0 1141.0M1640.0 1135.0L1647.2 1135.0M1647.2 1129.0L1647.2 1141.0M1640.0 1141.0L1647.2 1141.0M1643.5 1129.0L1643.5 1141.0M1651.8 1131.2L1656.6 1131.2M1654.2 1127.5L1654.2 1142.5M1651.0 1136.5L1656.6 1134.2M1659.0 1129.0L1665.4 1129.0M1659.0 1129.0L1659.0 1138.0M1665.4 1129.0L1665.4 1138.0M1659.0 1133.5L1665.4 1133.5M1659.0 1138.0L1665.4 1138.0M1660.6 1138.0L1658.2 1142.5M1663.8 1138.0L1666.2 1142.5M1676.4 1127.5L1676.4 1129.8M1670.0 1130.5L1682.8 1130.5M1670.0 1130.5L1670.0 1132.8M1682.8 1130.5L1682.8 1132.8M1671.6 1134.2L1681.2 1134.2M1676.4 1134.2L1676.4 1141.8M1676.4 1138.0L1681.2 1138.0M1673.2 1136.5L1670.0 1142.5M1673.2 1139.5L1684.4 1142.0" stroke="#333" stroke-width="1.5" fill="none" stroke-linecap="square"/>
<path d="M1426.5 1155.4L1431.0 1155.4M1428.8 1151.5L1428.8 1167.0M1425.8 1160.8L1431.0 1158.5M1433.2 1153.0L1439.2 1153.0M1433.2 1153.0L1433.2 1162.3M1439.2 1153.0L1439.2 1162.3M1433.2 1157.7L1439.2 1157.7M1433.2 1162.3L1439.2 1162.3M1434.7 1162.3L1432.5 1167.0M1437.7 1162.3L1440.0 1167.0M1449.5 1151.5L1449.5 1153.8M1443.5 1154.6L1455.5 1154.6M1443.5 1154.6L1443.5 1156.9M1455.5 1154.6L1455.5 1156.9M1445.0 1158.5L1454.0 1158.5M1449.5 1158.5L1449.5 1166.2M1449.5 1162.3L1454.0 1162.3M1446.5 1160.8L1443.5 1167.0M1446.5 1163.9L1457.0 1166.5M1461.3 1154.6L1471.7 1154.6M1461.3 1154.6L1461.3 1163.1M1471.7 1154.6L1471.7 1163.1M1461.3 1158.8L1471.7 1158.8M1461.3 1163.1L1471.7 1163.1M1466.5 1151.5L1466.5 1165.5M1466.5 1165.5L1473.2 1166.2M1476.8 1153.0L1479.0 1154.6M1476.3 1157.7L1478.7 1159.2M1476.8 1166.2L1479.3 1161.6M1481.3 1153.8L1490.2 1153.8M1485.0 1151.5L1485.0 1153.8M1482.8 1156.9L1489.5 1156.9M1482.0 1160.0L1482.0 1167.0M1485.0 1160.0L1485.0 1167.0M1488.0 1160.0L1488.0 1166.2M1488.0 1166.2L1490.7 1166.2M1493.0 1156.2L1499.0 1156.2M1496.0 1151.5L1496.0 1167.0M1496.0 1156.9L1493.0 1163.1M1496.0 1157.7L1499.0 1160.8M1500.5 1153.0L1507.2 1153.0M1500.5 1153.0L1500.5 1165.5M1500.5 1159.2L1507.2 1159.2M1507.2 1153.0L1507.2 1165.5M1500.5 1165.5L1507.2 1165.5M1503.8 1153.0L1503.8 1165.5M1511.5 1155.4L1516.0 1155.4M1513.8 1151.5L1513.8 1167.0M1510.8 1160.8L1516.0 1158.5M1518.2 1153.0L1524.2 1153.0M1518.2 1153.0L1518.2 1162.3M1524.2 1153.0L1524.2 1162.3M1518.2 1157.7L1524.2 1157.7M1518.2 1162.3L1524.2 1162.3M1519.7 1162.3L1517.5 1167.0M1522.7 1162.3L1525.0 1167.0M1534.5 1151.5L1534.5 1153.8M1528.5 1154.6L1540.5 1154.6M1528.5 1154.6L1528.5 1156.9M1540.5 1154.6L1540.5 1156.9M1530.0 1158.5L1539.0 1158.5M1534.5 1158.5L1534.5 1166.2M1534.5 1162.3L1539.0 1162.3M1531.5 1160.8L1528.5 1167.0M1531.5 1163.9L1542.0 1166.5M1546.3 1154.6L1556.7 1154.6M1546.3 1154.6L1546.3 1163.1M1556.7 1154.6L1556.7 1163.1M1546.3 1158.8L1556.7 1158.8M1546.3 1163.1L1556.7 1163.1M1551.5 1151.5L1551.5 1165.5M1551.5 1165.5L1558.2 1166.2" stroke="#333" stroke-width="1.5" fill="none" stroke-linecap="square"/>
<text x="1562.0" y="1165.8" font-size="19.97" textLength="30.0" lengthAdjust="spacingAndGlyphs" class="mo">9.8</text>
<path d="M1595.1 1153.0L1597.4 1154.6M1594.6 1157.7L1597.1 1159.2M1595.1 1166.2L1597.8 1161.6M1599.8 1153.8L1609.3 1153.8M1603.8 1151.5L1603.8 1153.8M1601.4 1156.9L1608.5 1156.9M1600.6 1160.0L1600.6 1167.0M1603.8 1160.0L1603.8 1167.0M1607.0 1160.0L1607.0 1166.2M1607.0 1166.2L1609.8 1166.2M1612.3 1156.2L1618.6 1156.2M1615.4 1151.5L1615.4 1167.0M1615.4 1156.9L1612.3 1163.1M1615.4 1157.7L1618.6 1160.8M1620.2 1153.0L1627.3 1153.0M1620.2 1153.0L1620.2 1165.5M1620.2 1159.2L1627.3 1159.2M1627.3 1153.0L1627.3 1165.5M1620.2 1165.5L1627.3 1165.5M1623.7 1153.0L1623.7 1165.5M1631.9 1155.4L1636.6 1155.4M1634.2 1151.5L1634.2 1167.0M1631.1 1160.8L1636.6 1158.5M1639.0 1153.0L1645.3 1153.0M1639.0 1153.0L1639.0 1162.3M1645.3 1153.0L1645.3 1162.3M1639.0 1157.7L1645.3 1157.7M1639.0 1162.3L1645.3 1162.3M1640.6 1162.3L1638.2 1167.0M1643.7 1162.3L1646.1 1167.0" stroke="#333" stroke-width="1.5" fill="none" stroke-linecap="square"/>
<text x="1648.0" y="1165.8" font-size="19.97" textLength="61.1" lengthAdjust="spacingAndGlyphs" class="mo">(3A-5A)</text>
</svg></body></html>
